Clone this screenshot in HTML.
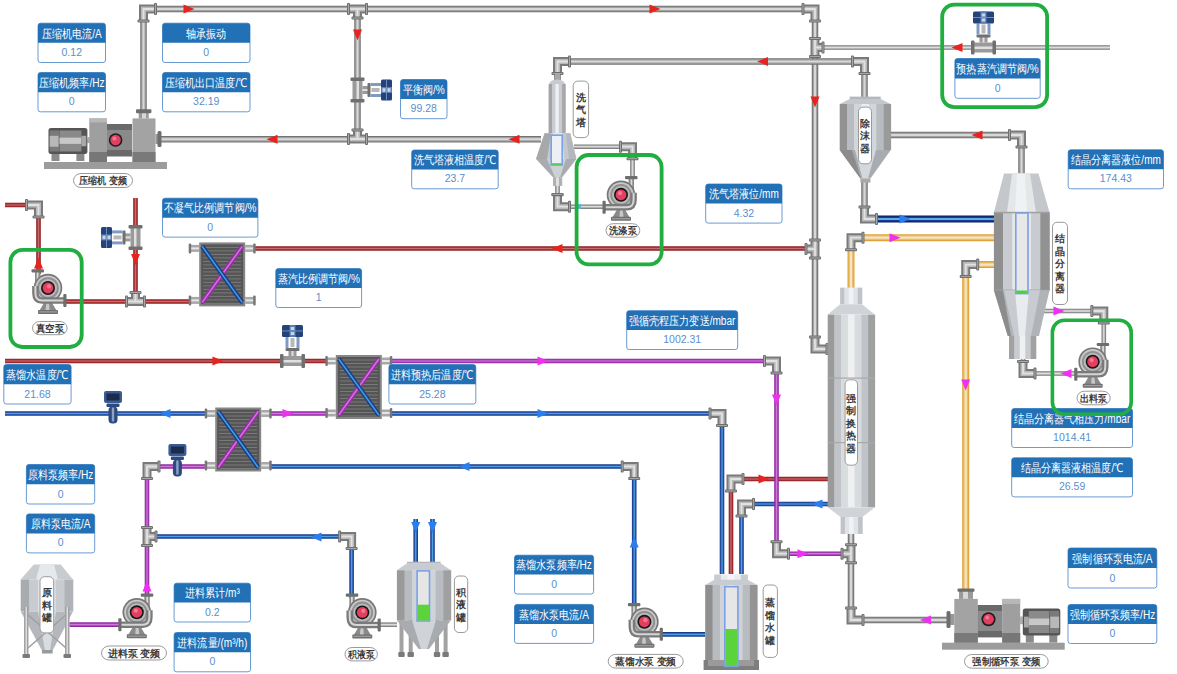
<!DOCTYPE html><html><head><meta charset="utf-8"><style>html,body{margin:0;padding:0;background:#fff;overflow:hidden} svg{display:block} text{font-family:'Liberation Sans', sans-serif}</style></head><body>
<svg width="1177" height="674" viewBox="0 0 1177 674">
<path d="M143.5,113 V9 H815 V349 H829" fill="none" stroke="#727272" stroke-width="6.5" stroke-linejoin="miter"/>
<path d="M143.5,113 V9 H815 V349 H829" fill="none" stroke="#a2a2a2" stroke-width="4.4" stroke-linejoin="miter"/>
<path d="M143.5,113 V9 H815 V349 H829" fill="none" stroke="#d8d8d8" stroke-width="2.0" stroke-linejoin="miter"/>
<path d="M160,139.2 H541" fill="none" stroke="#727272" stroke-width="6.5" stroke-linejoin="miter"/>
<path d="M160,139.2 H541" fill="none" stroke="#a2a2a2" stroke-width="4.4" stroke-linejoin="miter"/>
<path d="M160,139.2 H541" fill="none" stroke="#d8d8d8" stroke-width="2.0" stroke-linejoin="miter"/>
<path d="M357.5,9 V139" fill="none" stroke="#727272" stroke-width="6.5" stroke-linejoin="miter"/>
<path d="M357.5,9 V139" fill="none" stroke="#a2a2a2" stroke-width="4.4" stroke-linejoin="miter"/>
<path d="M357.5,9 V139" fill="none" stroke="#d8d8d8" stroke-width="2.0" stroke-linejoin="miter"/>
<path d="M557.5,80 V61.5 H864.5 V98" fill="none" stroke="#727272" stroke-width="6.5" stroke-linejoin="miter"/>
<path d="M557.5,80 V61.5 H864.5 V98" fill="none" stroke="#a2a2a2" stroke-width="4.4" stroke-linejoin="miter"/>
<path d="M557.5,80 V61.5 H864.5 V98" fill="none" stroke="#d8d8d8" stroke-width="2.0" stroke-linejoin="miter"/>
<path d="M815,47.5 H1110" fill="none" stroke="#7a7a7a" stroke-width="4.6" stroke-linejoin="miter"/>
<path d="M815,47.5 H1110" fill="none" stroke="#a6a6a6" stroke-width="3.0" stroke-linejoin="miter"/>
<path d="M815,47.5 H1110" fill="none" stroke="#dcdcdc" stroke-width="1.3" stroke-linejoin="miter"/>
<path d="M891,135 H1021.5 V174" fill="none" stroke="#727272" stroke-width="6.5" stroke-linejoin="miter"/>
<path d="M891,135 H1021.5 V174" fill="none" stroke="#a2a2a2" stroke-width="4.4" stroke-linejoin="miter"/>
<path d="M891,135 H1021.5 V174" fill="none" stroke="#d8d8d8" stroke-width="2.0" stroke-linejoin="miter"/>
<path d="M864.5,182 V219 H877" fill="none" stroke="#727272" stroke-width="6.5" stroke-linejoin="miter"/>
<path d="M864.5,182 V219 H877" fill="none" stroke="#a2a2a2" stroke-width="4.4" stroke-linejoin="miter"/>
<path d="M864.5,182 V219 H877" fill="none" stroke="#d8d8d8" stroke-width="2.0" stroke-linejoin="miter"/>
<path d="M574,146.7 H632.5 V178" fill="none" stroke="#7a7a7a" stroke-width="4.6" stroke-linejoin="miter"/>
<path d="M574,146.7 H632.5 V178" fill="none" stroke="#a6a6a6" stroke-width="3.0" stroke-linejoin="miter"/>
<path d="M574,146.7 H632.5 V178" fill="none" stroke="#dcdcdc" stroke-width="1.3" stroke-linejoin="miter"/>
<path d="M557.5,176 V206.7 H606" fill="none" stroke="#7a7a7a" stroke-width="4.6" stroke-linejoin="miter"/>
<path d="M557.5,176 V206.7 H606" fill="none" stroke="#a6a6a6" stroke-width="3.0" stroke-linejoin="miter"/>
<path d="M557.5,176 V206.7 H606" fill="none" stroke="#dcdcdc" stroke-width="1.3" stroke-linejoin="miter"/>
<path d="M1044,311 H1103.8 V345" fill="none" stroke="#7a7a7a" stroke-width="4.6" stroke-linejoin="miter"/>
<path d="M1044,311 H1103.8 V345" fill="none" stroke="#a6a6a6" stroke-width="3.0" stroke-linejoin="miter"/>
<path d="M1044,311 H1103.8 V345" fill="none" stroke="#dcdcdc" stroke-width="1.3" stroke-linejoin="miter"/>
<path d="M1023,358 V373.5 H1076" fill="none" stroke="#7a7a7a" stroke-width="4.6" stroke-linejoin="miter"/>
<path d="M1023,358 V373.5 H1076" fill="none" stroke="#a6a6a6" stroke-width="3.0" stroke-linejoin="miter"/>
<path d="M1023,358 V373.5 H1076" fill="none" stroke="#dcdcdc" stroke-width="1.3" stroke-linejoin="miter"/>
<path d="M851,533 V620 H947" fill="none" stroke="#727272" stroke-width="6.5" stroke-linejoin="miter"/>
<path d="M851,533 V620 H947" fill="none" stroke="#a2a2a2" stroke-width="4.4" stroke-linejoin="miter"/>
<path d="M851,533 V620 H947" fill="none" stroke="#d8d8d8" stroke-width="2.0" stroke-linejoin="miter"/>
<path d="M375,624.7 H397" fill="none" stroke="#7a7a7a" stroke-width="4.6" stroke-linejoin="miter"/>
<path d="M375,624.7 H397" fill="none" stroke="#a6a6a6" stroke-width="3.0" stroke-linejoin="miter"/>
<path d="M375,624.7 H397" fill="none" stroke="#dcdcdc" stroke-width="1.3" stroke-linejoin="miter"/>
<path d="M5,205 H38.5 V274" fill="none" stroke="#8e1f22" stroke-width="4.6" stroke-linejoin="miter"/>
<path d="M5,205 H38.5 V274" fill="none" stroke="#a83336" stroke-width="3.0" stroke-linejoin="miter"/>
<path d="M5,205 H38.5 V274" fill="none" stroke="#c96a6c" stroke-width="1.2" stroke-linejoin="miter"/>
<path d="M63,301.5 H190" fill="none" stroke="#8e1f22" stroke-width="4.6" stroke-linejoin="miter"/>
<path d="M63,301.5 H190" fill="none" stroke="#a83336" stroke-width="3.0" stroke-linejoin="miter"/>
<path d="M63,301.5 H190" fill="none" stroke="#c96a6c" stroke-width="1.2" stroke-linejoin="miter"/>
<path d="M135.5,198 V301.5" fill="none" stroke="#8e1f22" stroke-width="4.6" stroke-linejoin="miter"/>
<path d="M135.5,198 V301.5" fill="none" stroke="#a83336" stroke-width="3.0" stroke-linejoin="miter"/>
<path d="M135.5,198 V301.5" fill="none" stroke="#c96a6c" stroke-width="1.2" stroke-linejoin="miter"/>
<path d="M254,248.5 H808" fill="none" stroke="#8e1f22" stroke-width="4.6" stroke-linejoin="miter"/>
<path d="M254,248.5 H808" fill="none" stroke="#a83336" stroke-width="3.0" stroke-linejoin="miter"/>
<path d="M254,248.5 H808" fill="none" stroke="#c96a6c" stroke-width="1.2" stroke-linejoin="miter"/>
<path d="M5,361 H326" fill="none" stroke="#8e1f22" stroke-width="4.6" stroke-linejoin="miter"/>
<path d="M5,361 H326" fill="none" stroke="#a83336" stroke-width="3.0" stroke-linejoin="miter"/>
<path d="M5,361 H326" fill="none" stroke="#c96a6c" stroke-width="1.2" stroke-linejoin="miter"/>
<path d="M731,574 V479 H828" fill="none" stroke="#8e1f22" stroke-width="4.6" stroke-linejoin="miter"/>
<path d="M731,574 V479 H828" fill="none" stroke="#a83336" stroke-width="3.0" stroke-linejoin="miter"/>
<path d="M731,574 V479 H828" fill="none" stroke="#c96a6c" stroke-width="1.2" stroke-linejoin="miter"/>
<path d="M5,413.5 H206" fill="none" stroke="#1c3a8a" stroke-width="4.6" stroke-linejoin="miter"/>
<path d="M5,413.5 H206" fill="none" stroke="#2858ac" stroke-width="3.0" stroke-linejoin="miter"/>
<path d="M5,413.5 H206" fill="none" stroke="#4aa0e2" stroke-width="1.2" stroke-linejoin="miter"/>
<path d="M390,413.5 H722 V574" fill="none" stroke="#1c3a8a" stroke-width="4.6" stroke-linejoin="miter"/>
<path d="M390,413.5 H722 V574" fill="none" stroke="#2858ac" stroke-width="3.0" stroke-linejoin="miter"/>
<path d="M390,413.5 H722 V574" fill="none" stroke="#4aa0e2" stroke-width="1.2" stroke-linejoin="miter"/>
<path d="M270,466.5 H634.2 V607" fill="none" stroke="#1c3a8a" stroke-width="4.6" stroke-linejoin="miter"/>
<path d="M270,466.5 H634.2 V607" fill="none" stroke="#2858ac" stroke-width="3.0" stroke-linejoin="miter"/>
<path d="M270,466.5 H634.2 V607" fill="none" stroke="#4aa0e2" stroke-width="1.2" stroke-linejoin="miter"/>
<path d="M147,536.5 H351.6 V598" fill="none" stroke="#1c3a8a" stroke-width="4.6" stroke-linejoin="miter"/>
<path d="M147,536.5 H351.6 V598" fill="none" stroke="#2858ac" stroke-width="3.0" stroke-linejoin="miter"/>
<path d="M147,536.5 H351.6 V598" fill="none" stroke="#4aa0e2" stroke-width="1.2" stroke-linejoin="miter"/>
<path d="M741.5,574 V504 H828" fill="none" stroke="#1c3a8a" stroke-width="4.6" stroke-linejoin="miter"/>
<path d="M741.5,574 V504 H828" fill="none" stroke="#2858ac" stroke-width="3.0" stroke-linejoin="miter"/>
<path d="M741.5,574 V504 H828" fill="none" stroke="#4aa0e2" stroke-width="1.2" stroke-linejoin="miter"/>
<path d="M877,219 H994" fill="none" stroke="#111f6e" stroke-width="7" stroke-linejoin="miter"/>
<path d="M877,219 H994" fill="none" stroke="#1c3d94" stroke-width="4.6" stroke-linejoin="miter"/>
<path d="M877,219 H994" fill="none" stroke="#5ab0dc" stroke-width="2.0" stroke-linejoin="miter"/>
<path d="M415.7,519 V562" fill="none" stroke="#1c3a8a" stroke-width="4.6" stroke-linejoin="miter"/>
<path d="M415.7,519 V562" fill="none" stroke="#2858ac" stroke-width="3.0" stroke-linejoin="miter"/>
<path d="M415.7,519 V562" fill="none" stroke="#4aa0e2" stroke-width="1.2" stroke-linejoin="miter"/>
<path d="M432.5,519 V562" fill="none" stroke="#1c3a8a" stroke-width="4.6" stroke-linejoin="miter"/>
<path d="M432.5,519 V562" fill="none" stroke="#2858ac" stroke-width="3.0" stroke-linejoin="miter"/>
<path d="M432.5,519 V562" fill="none" stroke="#4aa0e2" stroke-width="1.2" stroke-linejoin="miter"/>
<path d="M660,634.4 H705" fill="none" stroke="#1c3a8a" stroke-width="4.6" stroke-linejoin="miter"/>
<path d="M660,634.4 H705" fill="none" stroke="#2858ac" stroke-width="3.0" stroke-linejoin="miter"/>
<path d="M660,634.4 H705" fill="none" stroke="#4aa0e2" stroke-width="1.2" stroke-linejoin="miter"/>
<path d="M390,361 H776.5 V553.7 H843" fill="none" stroke="#912aa0" stroke-width="4.6" stroke-linejoin="miter"/>
<path d="M390,361 H776.5 V553.7 H843" fill="none" stroke="#a63cb6" stroke-width="3.0" stroke-linejoin="miter"/>
<path d="M390,361 H776.5 V553.7 H843" fill="none" stroke="#cc7ad8" stroke-width="1.2" stroke-linejoin="miter"/>
<path d="M270,413.5 H326" fill="none" stroke="#912aa0" stroke-width="4.6" stroke-linejoin="miter"/>
<path d="M270,413.5 H326" fill="none" stroke="#a63cb6" stroke-width="3.0" stroke-linejoin="miter"/>
<path d="M270,413.5 H326" fill="none" stroke="#cc7ad8" stroke-width="1.2" stroke-linejoin="miter"/>
<path d="M147,596 V466.5 H206" fill="none" stroke="#912aa0" stroke-width="4.6" stroke-linejoin="miter"/>
<path d="M147,596 V466.5 H206" fill="none" stroke="#a63cb6" stroke-width="3.0" stroke-linejoin="miter"/>
<path d="M147,596 V466.5 H206" fill="none" stroke="#cc7ad8" stroke-width="1.2" stroke-linejoin="miter"/>
<path d="M69.5,624.6 H120" fill="none" stroke="#912aa0" stroke-width="4.6" stroke-linejoin="miter"/>
<path d="M69.5,624.6 H120" fill="none" stroke="#a63cb6" stroke-width="3.0" stroke-linejoin="miter"/>
<path d="M69.5,624.6 H120" fill="none" stroke="#cc7ad8" stroke-width="1.2" stroke-linejoin="miter"/>
<path d="M851,289 V237.7 H994" fill="none" stroke="#e0a23a" stroke-width="7" stroke-linejoin="miter"/>
<path d="M851,289 V237.7 H994" fill="none" stroke="#ebbd66" stroke-width="4.8" stroke-linejoin="miter"/>
<path d="M851,289 V237.7 H994" fill="none" stroke="#f3e4c8" stroke-width="2.2" stroke-linejoin="miter"/>
<path d="M994,264.6 H965.7 V591" fill="none" stroke="#e0a23a" stroke-width="7" stroke-linejoin="miter"/>
<path d="M994,264.6 H965.7 V591" fill="none" stroke="#ebbd66" stroke-width="4.8" stroke-linejoin="miter"/>
<path d="M994,264.6 H965.7 V591" fill="none" stroke="#f3e4c8" stroke-width="2.2" stroke-linejoin="miter"/>
<rect x="44" y="162" width="123" height="7" fill="#9c9c9c"/>
<g transform="translate(48.5,128) translate(38.900000000000006,0) scale(-1,1)">
<rect x="3" y="25" width="8" height="8" fill="#8a8a8a"/><rect x="27.900000000000006" y="25" width="8" height="8" fill="#8a8a8a"/>
<rect x="-3" y="10.92" width="3.5" height="4.16" fill="#b0b0b0"/>
<rect x="0" y="0" width="38.900000000000006" height="26" rx="2.5" fill="#555"/>
<rect x="6" y="2.5" width="21.900000000000006" height="21" fill="#8a8a8a"/>
<rect x="6" y="9.62" width="21.900000000000006" height="6.24" fill="#c8c8c8"/>
<rect x="1.2" y="7.8" width="4.8" height="10.4" fill="#a8a8a8"/>
<rect x="28.400000000000006" y="2.5" width="9.3" height="21" fill="#7a7a7a"/>
<rect x="28.900000000000006" y="7.8" width="8.8" height="10.92" fill="#b8b8b8"/>
</g>
<rect x="87.5" y="137" width="2" height="6" fill="#aaa"/>
<rect x="89.3" y="118.4" width="17.7" height="43.6" fill="#9f9f9f"/><rect x="89.3" y="118.4" width="17.7" height="4" fill="#b8b8b8"/><rect x="89.3" y="152" width="17.7" height="10" fill="#777"/>
<rect x="107" y="124" width="25" height="32.5" fill="#6a6a6a"/><rect x="107" y="130" width="25" height="20" fill="#8a8a8a"/>
<circle cx="115.6" cy="140" r="6.8" fill="#1b1b22"/><circle cx="115.6" cy="140" r="5.2" fill="#e2405e"/><circle cx="114.4" cy="138.4" r="2" fill="#f07890"/>
<rect x="132.5" y="118.4" width="23" height="43.6" fill="#a3a3a3"/><rect x="132.5" y="152" width="23" height="10" fill="#7a7a7a"/>
<rect x="138.7" y="111" width="10" height="7.4" fill="#9a9a9a"/><rect x="142" y="111" width="4" height="7.4" fill="#d8d8d8"/><rect x="136" y="109.2" width="15.4" height="4" rx="1" fill="#6e6e6e"/>
<rect x="155.5" y="134" width="3" height="10" fill="#999"/><rect x="157.5" y="131" width="4" height="16" rx="1.5" fill="#6e6e6e"/>
<rect x="73.5" y="173.5" width="59" height="14" rx="7.5" fill="#fff" stroke="#9a9a9a" stroke-width="1"/>
<text x="103.0" y="184.148" font-size="9.6" font-weight="bold" fill="#3a3a3a" text-anchor="middle" textLength="48.0" lengthAdjust="spacingAndGlyphs">压缩机 变频</text>
<g transform="translate(357.5,90) scale(1,1)">
<rect x="-5" y="-10" width="10" height="20" fill="#9a9a9a"/><rect x="-1" y="-10" width="2.5" height="20" fill="#e0e0e0"/>
<rect x="-7" y="-12.5" width="14" height="3.5" rx="1" fill="#707070"/><rect x="-7" y="9" width="14" height="3.5" rx="1" fill="#707070"/>
<rect x="5" y="-4" width="6" height="8" fill="#9a9a9a"/><rect x="5" y="-1" width="6" height="2" fill="#e0e0e0"/>
<rect x="10" y="-7" width="3" height="14" rx="1" fill="#707070"/>
<rect x="13" y="-7" width="11" height="3" fill="#7f9bc4"/><rect x="13" y="4" width="11" height="3" fill="#7f9bc4"/>
<rect x="14" y="-2" width="8" height="4" fill="#b8b8b8"/>
<rect x="23.5" y="-10.5" width="11" height="21" rx="1.5" fill="#24437a"/>
<rect x="23.5" y="-3" width="11" height="6" fill="#5a7fb6"/><rect x="25" y="-1.8" width="3" height="3.6" fill="#c8d6ea"/><rect x="30" y="-1.8" width="3" height="3.6" fill="#c8d6ea"/>
<rect x="28.6" y="-10.5" width="0.9" height="21" fill="#7a96c0"/>
</g>
<path d="M143.5,21 L143.5,9 L155.5,9" fill="none" stroke="#7a7a7a" stroke-width="9" stroke-linejoin="miter"/>
<path d="M143.5,21 L143.5,9 L155.5,9" fill="none" stroke="#b9b9b9" stroke-width="5" stroke-linejoin="miter"/>
<path d="M143.5,21 L143.5,9 L155.5,9" fill="none" stroke="#e2e2e2" stroke-width="1.8" stroke-linejoin="miter"/>
<rect x="137.5" y="19.5" width="12" height="3" rx="1" fill="#6e6e6e"/>
<rect x="138.5" y="20.5" width="10" height="1" fill="#a8a8a8"/>
<rect x="154.0" y="3" width="3" height="12" rx="1" fill="#6e6e6e"/>
<rect x="155.0" y="4" width="1" height="10" fill="#a8a8a8"/>
<path d="M348.5,9 L366.5,9" fill="none" stroke="#7a7a7a" stroke-width="9"/>
<path d="M357.5,9 L357.5,18" fill="none" stroke="#7a7a7a" stroke-width="9"/>
<path d="M348.5,9 L366.5,9" fill="none" stroke="#b9b9b9" stroke-width="5"/>
<path d="M357.5,9 L357.5,18" fill="none" stroke="#b9b9b9" stroke-width="5"/>
<path d="M348.5,9 L366.5,9" fill="none" stroke="#e2e2e2" stroke-width="1.8"/>
<path d="M357.5,9 L357.5,18" fill="none" stroke="#e2e2e2" stroke-width="1.8"/>
<rect x="347.0" y="3" width="3" height="12" rx="1" fill="#6e6e6e"/>
<rect x="348.0" y="4" width="1" height="10" fill="#a8a8a8"/>
<rect x="365.0" y="3" width="3" height="12" rx="1" fill="#6e6e6e"/>
<rect x="366.0" y="4" width="1" height="10" fill="#a8a8a8"/>
<rect x="351.5" y="16.5" width="12" height="3" rx="1" fill="#6e6e6e"/>
<rect x="352.5" y="17.5" width="10" height="1" fill="#a8a8a8"/>
<path d="M348.5,139 L366.5,139" fill="none" stroke="#7a7a7a" stroke-width="9"/>
<path d="M357.5,139 L357.5,130" fill="none" stroke="#7a7a7a" stroke-width="9"/>
<path d="M348.5,139 L366.5,139" fill="none" stroke="#b9b9b9" stroke-width="5"/>
<path d="M357.5,139 L357.5,130" fill="none" stroke="#b9b9b9" stroke-width="5"/>
<path d="M348.5,139 L366.5,139" fill="none" stroke="#e2e2e2" stroke-width="1.8"/>
<path d="M357.5,139 L357.5,130" fill="none" stroke="#e2e2e2" stroke-width="1.8"/>
<rect x="347.0" y="133" width="3" height="12" rx="1" fill="#6e6e6e"/>
<rect x="348.0" y="134" width="1" height="10" fill="#a8a8a8"/>
<rect x="365.0" y="133" width="3" height="12" rx="1" fill="#6e6e6e"/>
<rect x="366.0" y="134" width="1" height="10" fill="#a8a8a8"/>
<rect x="351.5" y="128.5" width="12" height="3" rx="1" fill="#6e6e6e"/>
<rect x="352.5" y="129.5" width="10" height="1" fill="#a8a8a8"/>
<path d="M803,9 L815,9 L815,21" fill="none" stroke="#7a7a7a" stroke-width="9" stroke-linejoin="miter"/>
<path d="M803,9 L815,9 L815,21" fill="none" stroke="#b9b9b9" stroke-width="5" stroke-linejoin="miter"/>
<path d="M803,9 L815,9 L815,21" fill="none" stroke="#e2e2e2" stroke-width="1.8" stroke-linejoin="miter"/>
<rect x="801.5" y="3" width="3" height="12" rx="1" fill="#6e6e6e"/>
<rect x="802.5" y="4" width="1" height="10" fill="#a8a8a8"/>
<rect x="809" y="19.5" width="12" height="3" rx="1" fill="#6e6e6e"/>
<rect x="810" y="20.5" width="10" height="1" fill="#a8a8a8"/>
<path d="M815,38.5 L815,56.5" fill="none" stroke="#7a7a7a" stroke-width="9"/>
<path d="M815,47.5 L823,47.5" fill="none" stroke="#7a7a7a" stroke-width="9"/>
<path d="M815,38.5 L815,56.5" fill="none" stroke="#b9b9b9" stroke-width="5"/>
<path d="M815,47.5 L823,47.5" fill="none" stroke="#b9b9b9" stroke-width="5"/>
<path d="M815,38.5 L815,56.5" fill="none" stroke="#e2e2e2" stroke-width="1.8"/>
<path d="M815,47.5 L823,47.5" fill="none" stroke="#e2e2e2" stroke-width="1.8"/>
<rect x="809" y="37.0" width="12" height="3" rx="1" fill="#6e6e6e"/>
<rect x="810" y="38.0" width="10" height="1" fill="#a8a8a8"/>
<rect x="809" y="55.0" width="12" height="3" rx="1" fill="#6e6e6e"/>
<rect x="810" y="56.0" width="10" height="1" fill="#a8a8a8"/>
<rect x="821.5" y="41.5" width="3" height="12" rx="1" fill="#6e6e6e"/>
<rect x="822.5" y="42.5" width="1" height="10" fill="#a8a8a8"/>
<path d="M852.5,61.5 L864.5,61.5 L864.5,73.5" fill="none" stroke="#7a7a7a" stroke-width="9" stroke-linejoin="miter"/>
<path d="M852.5,61.5 L864.5,61.5 L864.5,73.5" fill="none" stroke="#b9b9b9" stroke-width="5" stroke-linejoin="miter"/>
<path d="M852.5,61.5 L864.5,61.5 L864.5,73.5" fill="none" stroke="#e2e2e2" stroke-width="1.8" stroke-linejoin="miter"/>
<rect x="851.0" y="55.5" width="3" height="12" rx="1" fill="#6e6e6e"/>
<rect x="852.0" y="56.5" width="1" height="10" fill="#a8a8a8"/>
<rect x="858.5" y="72.0" width="12" height="3" rx="1" fill="#6e6e6e"/>
<rect x="859.5" y="73.0" width="10" height="1" fill="#a8a8a8"/>
<path d="M557.5,73.5 L557.5,61.5 L569.5,61.5" fill="none" stroke="#7a7a7a" stroke-width="9" stroke-linejoin="miter"/>
<path d="M557.5,73.5 L557.5,61.5 L569.5,61.5" fill="none" stroke="#b9b9b9" stroke-width="5" stroke-linejoin="miter"/>
<path d="M557.5,73.5 L557.5,61.5 L569.5,61.5" fill="none" stroke="#e2e2e2" stroke-width="1.8" stroke-linejoin="miter"/>
<rect x="551.5" y="72.0" width="12" height="3" rx="1" fill="#6e6e6e"/>
<rect x="552.5" y="73.0" width="10" height="1" fill="#a8a8a8"/>
<rect x="568.0" y="55.5" width="3" height="12" rx="1" fill="#6e6e6e"/>
<rect x="569.0" y="56.5" width="1" height="10" fill="#a8a8a8"/>
<path d="M1009.5,135 L1021.5,135 L1021.5,147" fill="none" stroke="#7a7a7a" stroke-width="9" stroke-linejoin="miter"/>
<path d="M1009.5,135 L1021.5,135 L1021.5,147" fill="none" stroke="#b9b9b9" stroke-width="5" stroke-linejoin="miter"/>
<path d="M1009.5,135 L1021.5,135 L1021.5,147" fill="none" stroke="#e2e2e2" stroke-width="1.8" stroke-linejoin="miter"/>
<rect x="1008.0" y="129" width="3" height="12" rx="1" fill="#6e6e6e"/>
<rect x="1009.0" y="130" width="1" height="10" fill="#a8a8a8"/>
<rect x="1015.5" y="145.5" width="12" height="3" rx="1" fill="#6e6e6e"/>
<rect x="1016.5" y="146.5" width="10" height="1" fill="#a8a8a8"/>
<path d="M864.5,207 L864.5,219 L876.5,219" fill="none" stroke="#7a7a7a" stroke-width="9" stroke-linejoin="miter"/>
<path d="M864.5,207 L864.5,219 L876.5,219" fill="none" stroke="#b9b9b9" stroke-width="5" stroke-linejoin="miter"/>
<path d="M864.5,207 L864.5,219 L876.5,219" fill="none" stroke="#e2e2e2" stroke-width="1.8" stroke-linejoin="miter"/>
<rect x="858.5" y="205.5" width="12" height="3" rx="1" fill="#6e6e6e"/>
<rect x="859.5" y="206.5" width="10" height="1" fill="#a8a8a8"/>
<rect x="875.0" y="213" width="3" height="12" rx="1" fill="#6e6e6e"/>
<rect x="876.0" y="214" width="1" height="10" fill="#a8a8a8"/>
<path d="M620.5,146.7 L632.5,146.7 L632.5,158.7" fill="none" stroke="#7a7a7a" stroke-width="9" stroke-linejoin="miter"/>
<path d="M620.5,146.7 L632.5,146.7 L632.5,158.7" fill="none" stroke="#b9b9b9" stroke-width="5" stroke-linejoin="miter"/>
<path d="M620.5,146.7 L632.5,146.7 L632.5,158.7" fill="none" stroke="#e2e2e2" stroke-width="1.8" stroke-linejoin="miter"/>
<rect x="619.0" y="140.7" width="3" height="12" rx="1" fill="#6e6e6e"/>
<rect x="620.0" y="141.7" width="1" height="10" fill="#a8a8a8"/>
<rect x="626.5" y="157.2" width="12" height="3" rx="1" fill="#6e6e6e"/>
<rect x="627.5" y="158.2" width="10" height="1" fill="#a8a8a8"/>
<path d="M557.5,194.7 L557.5,206.7 L569.5,206.7" fill="none" stroke="#7a7a7a" stroke-width="9" stroke-linejoin="miter"/>
<path d="M557.5,194.7 L557.5,206.7 L569.5,206.7" fill="none" stroke="#b9b9b9" stroke-width="5" stroke-linejoin="miter"/>
<path d="M557.5,194.7 L557.5,206.7 L569.5,206.7" fill="none" stroke="#e2e2e2" stroke-width="1.8" stroke-linejoin="miter"/>
<rect x="551.5" y="193.2" width="12" height="3" rx="1" fill="#6e6e6e"/>
<rect x="552.5" y="194.2" width="10" height="1" fill="#a8a8a8"/>
<rect x="568.0" y="200.7" width="3" height="12" rx="1" fill="#6e6e6e"/>
<rect x="569.0" y="201.7" width="1" height="10" fill="#a8a8a8"/>
<path d="M815,240 L815,258" fill="none" stroke="#7a7a7a" stroke-width="9"/>
<path d="M815,249 L806,249" fill="none" stroke="#7a7a7a" stroke-width="9"/>
<path d="M815,240 L815,258" fill="none" stroke="#b9b9b9" stroke-width="5"/>
<path d="M815,249 L806,249" fill="none" stroke="#b9b9b9" stroke-width="5"/>
<path d="M815,240 L815,258" fill="none" stroke="#e2e2e2" stroke-width="1.8"/>
<path d="M815,249 L806,249" fill="none" stroke="#e2e2e2" stroke-width="1.8"/>
<rect x="809" y="238.5" width="12" height="3" rx="1" fill="#6e6e6e"/>
<rect x="810" y="239.5" width="10" height="1" fill="#a8a8a8"/>
<rect x="809" y="256.5" width="12" height="3" rx="1" fill="#6e6e6e"/>
<rect x="810" y="257.5" width="10" height="1" fill="#a8a8a8"/>
<rect x="804.5" y="243" width="3" height="12" rx="1" fill="#6e6e6e"/>
<rect x="805.5" y="244" width="1" height="10" fill="#a8a8a8"/>
<path d="M815,337 L815,349 L827,349" fill="none" stroke="#7a7a7a" stroke-width="9" stroke-linejoin="miter"/>
<path d="M815,337 L815,349 L827,349" fill="none" stroke="#b9b9b9" stroke-width="5" stroke-linejoin="miter"/>
<path d="M815,337 L815,349 L827,349" fill="none" stroke="#e2e2e2" stroke-width="1.8" stroke-linejoin="miter"/>
<rect x="809" y="335.5" width="12" height="3" rx="1" fill="#6e6e6e"/>
<rect x="810" y="336.5" width="10" height="1" fill="#a8a8a8"/>
<rect x="825.5" y="343" width="3" height="12" rx="1" fill="#6e6e6e"/>
<rect x="826.5" y="344" width="1" height="10" fill="#a8a8a8"/>
<path d="M1091.8,311 L1103.8,311 L1103.8,323" fill="none" stroke="#7a7a7a" stroke-width="9" stroke-linejoin="miter"/>
<path d="M1091.8,311 L1103.8,311 L1103.8,323" fill="none" stroke="#b9b9b9" stroke-width="5" stroke-linejoin="miter"/>
<path d="M1091.8,311 L1103.8,311 L1103.8,323" fill="none" stroke="#e2e2e2" stroke-width="1.8" stroke-linejoin="miter"/>
<rect x="1090.3" y="305" width="3" height="12" rx="1" fill="#6e6e6e"/>
<rect x="1091.3" y="306" width="1" height="10" fill="#a8a8a8"/>
<rect x="1097.8" y="321.5" width="12" height="3" rx="1" fill="#6e6e6e"/>
<rect x="1098.8" y="322.5" width="10" height="1" fill="#a8a8a8"/>
<path d="M1023,361.5 L1023,373.5 L1035,373.5" fill="none" stroke="#7a7a7a" stroke-width="9" stroke-linejoin="miter"/>
<path d="M1023,361.5 L1023,373.5 L1035,373.5" fill="none" stroke="#b9b9b9" stroke-width="5" stroke-linejoin="miter"/>
<path d="M1023,361.5 L1023,373.5 L1035,373.5" fill="none" stroke="#e2e2e2" stroke-width="1.8" stroke-linejoin="miter"/>
<rect x="1017" y="360.0" width="12" height="3" rx="1" fill="#6e6e6e"/>
<rect x="1018" y="361.0" width="10" height="1" fill="#a8a8a8"/>
<rect x="1033.5" y="367.5" width="3" height="12" rx="1" fill="#6e6e6e"/>
<rect x="1034.5" y="368.5" width="1" height="10" fill="#a8a8a8"/>
<path d="M851,608 L851,620 L863,620" fill="none" stroke="#7a7a7a" stroke-width="9" stroke-linejoin="miter"/>
<path d="M851,608 L851,620 L863,620" fill="none" stroke="#b9b9b9" stroke-width="5" stroke-linejoin="miter"/>
<path d="M851,608 L851,620 L863,620" fill="none" stroke="#e2e2e2" stroke-width="1.8" stroke-linejoin="miter"/>
<rect x="845" y="606.5" width="12" height="3" rx="1" fill="#6e6e6e"/>
<rect x="846" y="607.5" width="10" height="1" fill="#a8a8a8"/>
<rect x="861.5" y="614" width="3" height="12" rx="1" fill="#6e6e6e"/>
<rect x="862.5" y="615" width="1" height="10" fill="#a8a8a8"/>
<path d="M851,544.7 L851,562.7" fill="none" stroke="#7a7a7a" stroke-width="9"/>
<path d="M851,553.7 L842,553.7" fill="none" stroke="#7a7a7a" stroke-width="9"/>
<path d="M851,544.7 L851,562.7" fill="none" stroke="#b9b9b9" stroke-width="5"/>
<path d="M851,553.7 L842,553.7" fill="none" stroke="#b9b9b9" stroke-width="5"/>
<path d="M851,544.7 L851,562.7" fill="none" stroke="#e2e2e2" stroke-width="1.8"/>
<path d="M851,553.7 L842,553.7" fill="none" stroke="#e2e2e2" stroke-width="1.8"/>
<rect x="845" y="543.2" width="12" height="3" rx="1" fill="#6e6e6e"/>
<rect x="846" y="544.2" width="10" height="1" fill="#a8a8a8"/>
<rect x="845" y="561.2" width="12" height="3" rx="1" fill="#6e6e6e"/>
<rect x="846" y="562.2" width="10" height="1" fill="#a8a8a8"/>
<rect x="840.5" y="547.7" width="3" height="12" rx="1" fill="#6e6e6e"/>
<rect x="841.5" y="548.7" width="1" height="10" fill="#a8a8a8"/>
<path d="M851,249.7 L851,237.7 L863,237.7" fill="none" stroke="#7a7a7a" stroke-width="9" stroke-linejoin="miter"/>
<path d="M851,249.7 L851,237.7 L863,237.7" fill="none" stroke="#b9b9b9" stroke-width="5" stroke-linejoin="miter"/>
<path d="M851,249.7 L851,237.7 L863,237.7" fill="none" stroke="#e2e2e2" stroke-width="1.8" stroke-linejoin="miter"/>
<rect x="845" y="248.2" width="12" height="3" rx="1" fill="#6e6e6e"/>
<rect x="846" y="249.2" width="10" height="1" fill="#a8a8a8"/>
<rect x="861.5" y="231.7" width="3" height="12" rx="1" fill="#6e6e6e"/>
<rect x="862.5" y="232.7" width="1" height="10" fill="#a8a8a8"/>
<path d="M977.7,264.6 L965.7,264.6 L965.7,276.6" fill="none" stroke="#7a7a7a" stroke-width="9" stroke-linejoin="miter"/>
<path d="M977.7,264.6 L965.7,264.6 L965.7,276.6" fill="none" stroke="#b9b9b9" stroke-width="5" stroke-linejoin="miter"/>
<path d="M977.7,264.6 L965.7,264.6 L965.7,276.6" fill="none" stroke="#e2e2e2" stroke-width="1.8" stroke-linejoin="miter"/>
<rect x="976.2" y="258.6" width="3" height="12" rx="1" fill="#6e6e6e"/>
<rect x="977.2" y="259.6" width="1" height="10" fill="#a8a8a8"/>
<rect x="959.7" y="275.1" width="12" height="3" rx="1" fill="#6e6e6e"/>
<rect x="960.7" y="276.1" width="10" height="1" fill="#a8a8a8"/>
<g transform="translate(983.5,47.5)">
<rect x="-10" y="-5" width="20" height="10" fill="#9a9a9a"/><rect x="-10" y="-1" width="20" height="2.5" fill="#e0e0e0"/>
<rect x="-12.5" y="-7" width="3.5" height="14" rx="1" fill="#707070"/><rect x="9" y="-7" width="3.5" height="14" rx="1" fill="#707070"/>
<rect x="-4" y="-11" width="8" height="6" fill="#9a9a9a"/><rect x="-1" y="-11" width="2" height="6" fill="#e0e0e0"/>
<rect x="-7" y="-13" width="14" height="3" rx="1" fill="#707070"/>
<rect x="-7" y="-24" width="3" height="11" fill="#7f9bc4"/><rect x="4" y="-24" width="3" height="11" fill="#7f9bc4"/>
<rect x="-2" y="-23" width="4" height="9" fill="#b8b8b8"/>
<rect x="-10.5" y="-36" width="21" height="12" rx="1.5" fill="#24437a"/>
<rect x="-3" y="-36" width="6" height="12" fill="#5a7fb6"/><rect x="-1.8" y="-34" width="3.6" height="3" fill="#c8d6ea"/><rect x="-1.8" y="-29" width="3.6" height="3" fill="#c8d6ea"/>
<rect x="-10.5" y="-30.5" width="21" height="0.9" fill="#7a96c0"/>
</g>
<polygon points="183.5,4.5 194.5,9 183.5,13.5" fill="#e8231d"/>
<polygon points="649.5,4.5 660.5,9 649.5,13.5" fill="#e8231d"/>
<polygon points="353.0,29.5 357.5,40.5 362.0,29.5" fill="#e8231d"/>
<polygon points="519.5,134.7 508.5,139.2 519.5,143.7" fill="#e8231d"/>
<polygon points="277.5,134.7 266.5,139.2 277.5,143.7" fill="#e8231d"/>
<polygon points="768.0,57.0 757.0,61.5 768.0,66.0" fill="#e8231d"/>
<polygon points="810.5,96.5 815,107.5 819.5,96.5" fill="#e8231d"/>
<polygon points="962.5,43.0 951.5,47.5 962.5,52.0" fill="#e8231d"/>
<polygon points="982.5,130.5 971.5,135 982.5,139.5" fill="#e8231d"/>
<polygon points="899.5,214.5 910.5,219 899.5,223.5" fill="#2a7ff0"/>
<polygon points="889.5,233.2 900.5,237.7 889.5,242.2" fill="#f030f0"/>
<polygon points="961.2,379.5 965.7,390.5 970.2,379.5" fill="#f030f0"/>
<polygon points="1053.5,306.5 1064.5,311 1053.5,315.5" fill="#f030f0"/>
<polygon points="1071.5,369.0 1060.5,373.5 1071.5,378.0" fill="#f030f0"/>
<polygon points="931.0,615.5 920.0,620 931.0,624.5" fill="#f030f0"/>
<polygon points="34.0,268.5 38.5,257.5 43.0,268.5" fill="#e8231d"/>
<polygon points="131.0,254.0 135.5,265.0 140.0,254.0" fill="#e8231d"/>
<polygon points="562.5,244.0 551.5,248.5 562.5,253.0" fill="#e8231d"/>
<polygon points="212.5,356.5 223.5,361 212.5,365.5" fill="#e8231d"/>
<polygon points="537.5,356.5 548.5,361 537.5,365.5" fill="#f030f0"/>
<polygon points="772.0,394.5 776.5,405.5 781.0,394.5" fill="#f030f0"/>
<polygon points="797.5,549.2 808.5,553.7 797.5,558.2" fill="#f030f0"/>
<polygon points="282.5,409.0 293.5,413.5 282.5,418.0" fill="#f030f0"/>
<polygon points="170.5,409.0 159.5,413.5 170.5,418.0" fill="#2a7ff0"/>
<polygon points="537.5,409.0 548.5,413.5 537.5,418.0" fill="#2a7ff0"/>
<polygon points="469.5,462.0 458.5,466.5 469.5,471.0" fill="#2a7ff0"/>
<polygon points="629.7,547.5 634.2,536.5 638.7,547.5" fill="#2a7ff0"/>
<polygon points="321.5,532.5 310.5,537 321.5,541.5" fill="#2a7ff0"/>
<polygon points="758.5,474.5 769.5,479 758.5,483.5" fill="#e8231d"/>
<polygon points="822.5,499.5 811.5,504 822.5,508.5" fill="#2a7ff0"/>
<polygon points="142.5,591.5 147,580.5 151.5,591.5" fill="#f030f0"/>
<polygon points="411.2,522.0 415.7,533.0 420.2,522.0" fill="#2a7ff0"/>
<polygon points="428.0,522.0 432.5,533.0 437.0,522.0" fill="#2a7ff0"/>
<rect x="555" y="73" width="5" height="7" fill="#a8a8a8"/>
<path d="M548.7,86 Q548.7,79.4 557,79.4 Q565.4,79.4 565.4,86 V133.2 H548.7 Z" fill="#c8ccd0"/>
<rect x="548.70" y="84" width="3.64" height="49.19999999999999" fill="#a4a4a4"/>
<rect x="552.04" y="84" width="3.64" height="49.19999999999999" fill="#c9cdd1"/>
<rect x="555.38" y="84" width="3.64" height="49.19999999999999" fill="#eef1f3"/>
<rect x="558.72" y="84" width="3.64" height="49.19999999999999" fill="#c9cdd1"/>
<rect x="562.06" y="84" width="3.64" height="49.19999999999999" fill="#a8a8a8"/>
<path d="M544.6,133.2 H570.3 L576.4,159 H536 Z" fill="#c4c8cc"/>
<path d="M544.6,133.2 H551 L547,159 H536 Z" fill="#a6a8aa"/>
<path d="M553,133.2 H562 L564,159 H551 Z" fill="#e6eaee"/>
<path d="M566,133.2 H570.3 L576.4,159 H569 Z" fill="#b4b8bc"/>
<path d="M536,159 H576.4 L562.2,177.3 H553 Z" fill="#a8acb0"/>
<path d="M547,159 H566 L560,177.3 H555 Z" fill="#cdd1d5"/>
<rect x="553" y="177.3" width="9.2" height="8.6" fill="#b0b0b0"/><rect x="556" y="177.3" width="3" height="8.6" fill="#e0e0e0"/>
<rect x="551.2" y="135.2" width="11" height="29.8" fill="#eceff3" stroke="#7aa0e8" stroke-width="1.6"/>
<rect x="551.7" y="163.2" width="10" height="1.6" fill="#4cd040"/>
<rect x="551.5" y="192.9" width="12" height="3" rx="1" fill="#6e6e6e"/>
<rect x="552.5" y="193.9" width="10" height="1" fill="#a8a8a8"/>
<rect x="573.2" y="81.1" width="15.399999999999977" height="56.5" rx="4.5" fill="#fff" stroke="#9a9a9a" stroke-width="1"/>
<text x="580.9000000000001" y="100.85" font-size="10" font-weight="bold" fill="#3a3a3a" text-anchor="middle">洗</text>
<text x="580.9000000000001" y="113.35" font-size="10" font-weight="bold" fill="#3a3a3a" text-anchor="middle">气</text>
<text x="580.9000000000001" y="125.85" font-size="10" font-weight="bold" fill="#3a3a3a" text-anchor="middle">塔</text>
<g transform="translate(621,194.8)">
<path d="M-3.5,14 L3.5,14 L8.5,22.5 L-8.5,22.5 Z" fill="#8a8a8a"/><path d="M-1,14 L1.5,14 L2.5,22.5 L-1.5,22.5 Z" fill="#c8c8c8"/>
<rect x="-10" y="22" width="20" height="4" rx="1" fill="#6f6f6f"/><rect x="-9" y="23.3" width="18" height="1.2" fill="#a0a0a0"/>
<rect x="7.5" y="-17" width="5.5" height="17" fill="#8a8a8a"/><rect x="9.5" y="-17" width="1.8" height="17" fill="#dadada"/>
<rect x="4" y="-18.8" width="12.5" height="3.2" rx="1" fill="#6e6e6e"/>
<circle cx="0" cy="0" r="14.3" fill="#777"/>
<circle cx="0" cy="0" r="12.6" fill="#c9c9c9"/>
<circle cx="0" cy="0" r="10.8" fill="#8f8f8f"/>
<circle cx="0" cy="0" r="9" fill="#b9b9b9"/>
<path d="M-16,12.5 H6 Q12.6,12.5 12.6,5 V-2" fill="none" stroke="#7a7a7a" stroke-width="6.5"/>
<path d="M-16,12.5 H6 Q12.6,12.5 12.6,5 V-2" fill="none" stroke="#d6d6d6" stroke-width="2"/>
<rect x="-18.5" y="6" width="3.2" height="13" rx="1" fill="#6e6e6e"/>
<circle cx="0" cy="0" r="7" fill="#16161c"/>
<circle cx="0" cy="0" r="5.4" fill="#e2405e"/>
<circle cx="-1" cy="-1.6" r="2.1" fill="#f27a92"/>
</g>
<rect x="606.0" y="223.7" width="33.799999999999955" height="13.5" rx="7.25" fill="#fff" stroke="#9a9a9a" stroke-width="1"/>
<text x="622.9" y="234.09799999999998" font-size="9.6" font-weight="bold" fill="#3a3a3a" text-anchor="middle" textLength="27.839999999999964" lengthAdjust="spacingAndGlyphs">洗涤泵</text>
<rect x="575" y="204" width="6" height="5" fill="#5ab4e8"/>
<rect x="849.7" y="96.6" width="31" height="3" fill="#b4b8bc"/>
<path d="M849.7,99 H880.6 L890.8,104 H839.7 Z" fill="#c4c8cc"/>
<rect x="839.70" y="104" width="7.60" height="46" fill="#929292"/>
<rect x="847.00" y="104" width="7.60" height="46" fill="#b8bcc0"/>
<rect x="854.30" y="104" width="7.60" height="46" fill="#d2d6da"/>
<rect x="861.60" y="104" width="7.60" height="46" fill="#eaeef0"/>
<rect x="868.90" y="104" width="7.60" height="46" fill="#d2d6da"/>
<rect x="876.20" y="104" width="7.60" height="46" fill="#b8bcc0"/>
<rect x="883.50" y="104" width="7.60" height="46" fill="#9a9a9a"/>
<path d="M839.7,150 H890.8 L870.4,178.6 H860.4 Z" fill="#a8acb0"/>
<path d="M855,150 H876 L868,178.6 H862.5 Z" fill="#d4d8dc"/>
<path d="M839.7,150 H852 L861,178.6 H860.4 Z" fill="#8c8c8c"/>
<rect x="860.4" y="178.6" width="10" height="4" fill="#a8a8a8"/>
<rect x="858.5" y="107.1" width="13" height="56.70000000000002" rx="4.5" fill="#fff" stroke="#9a9a9a" stroke-width="1"/>
<text x="865.0" y="126.94999999999999" font-size="10" font-weight="bold" fill="#3a3a3a" text-anchor="middle">除</text>
<text x="865.0" y="139.45" font-size="10" font-weight="bold" fill="#3a3a3a" text-anchor="middle">沫</text>
<text x="865.0" y="151.95" font-size="10" font-weight="bold" fill="#3a3a3a" text-anchor="middle">器</text>
<path d="M1004,173.4 H1038.5 L1049.5,212.6 H993.9 Z" fill="#c4c8cc"/>
<path d="M1012,173.4 H1030 L1036,212.6 H1007 Z" fill="#e4e6e8"/>
<path d="M1017,173.4 H1025 L1027,212.6 H1015 Z" fill="#eef2f4"/>
<rect x="993.90" y="212.6" width="9.57" height="77.70000000000002" fill="#8f8f8f"/>
<rect x="1003.17" y="212.6" width="9.57" height="77.70000000000002" fill="#c8ccd0"/>
<rect x="1012.43" y="212.6" width="9.57" height="77.70000000000002" fill="#e6e8ea"/>
<rect x="1021.70" y="212.6" width="9.57" height="77.70000000000002" fill="#e6e8ea"/>
<rect x="1030.97" y="212.6" width="9.57" height="77.70000000000002" fill="#c8ccd0"/>
<rect x="1040.23" y="212.6" width="9.57" height="77.70000000000002" fill="#929292"/>
<rect x="993.9" y="211.8" width="55.6" height="1.5" fill="#a0a0a0"/><rect x="993.9" y="289.6" width="55.6" height="1.5" fill="#a0a0a0"/>
<path d="M993.9,290.3 H1049.5 L1039,336 H1007.8 Z" fill="#b0b4b8"/>
<path d="M1004,290.3 H1040 L1031,336 H1014 Z" fill="#c8ccd0"/>
<path d="M1015,290.3 H1029 L1025,336 H1019 Z" fill="#e8ecee"/>
<path d="M993.9,290.3 H1003 L1011,336 H1007.8 Z" fill="#8c8c8c"/>
<rect x="1009.00" y="336" width="5.70" height="23" fill="#a2a2a2"/>
<rect x="1014.40" y="336" width="5.70" height="23" fill="#c8ccd0"/>
<rect x="1019.80" y="336" width="5.70" height="23" fill="#eef0f2"/>
<rect x="1025.20" y="336" width="5.70" height="23" fill="#c8ccd0"/>
<rect x="1030.60" y="336" width="5.70" height="23" fill="#a2a2a2"/>
<rect x="1015.8" y="213" width="12.2" height="80.6" fill="#e8e8e8" stroke="#7aa0e8" stroke-width="1.6"/>
<rect x="1016.3" y="290.5" width="11.2" height="2.6" fill="#4cd040"/>
<rect x="1052.5" y="222.3" width="15" height="82.19999999999999" rx="4.5" fill="#fff" stroke="#9a9a9a" stroke-width="1"/>
<text x="1060.0" y="242.39999999999998" font-size="10" font-weight="bold" fill="#3a3a3a" text-anchor="middle">结</text>
<text x="1060.0" y="254.89999999999998" font-size="10" font-weight="bold" fill="#3a3a3a" text-anchor="middle">晶</text>
<text x="1060.0" y="267.4" font-size="10" font-weight="bold" fill="#3a3a3a" text-anchor="middle">分</text>
<text x="1060.0" y="279.9" font-size="10" font-weight="bold" fill="#3a3a3a" text-anchor="middle">离</text>
<text x="1060.0" y="292.4" font-size="10" font-weight="bold" fill="#3a3a3a" text-anchor="middle">器</text>
<g transform="translate(1092.7,361.7)">
<path d="M-3.5,14 L3.5,14 L8.5,22.5 L-8.5,22.5 Z" fill="#8a8a8a"/><path d="M-1,14 L1.5,14 L2.5,22.5 L-1.5,22.5 Z" fill="#c8c8c8"/>
<rect x="-10" y="22" width="20" height="4" rx="1" fill="#6f6f6f"/><rect x="-9" y="23.3" width="18" height="1.2" fill="#a0a0a0"/>
<rect x="7.5" y="-17" width="5.5" height="17" fill="#8a8a8a"/><rect x="9.5" y="-17" width="1.8" height="17" fill="#dadada"/>
<rect x="4" y="-18.8" width="12.5" height="3.2" rx="1" fill="#6e6e6e"/>
<circle cx="0" cy="0" r="14.3" fill="#777"/>
<circle cx="0" cy="0" r="12.6" fill="#c9c9c9"/>
<circle cx="0" cy="0" r="10.8" fill="#8f8f8f"/>
<circle cx="0" cy="0" r="9" fill="#b9b9b9"/>
<path d="M-16,12.5 H6 Q12.6,12.5 12.6,5 V-2" fill="none" stroke="#7a7a7a" stroke-width="6.5"/>
<path d="M-16,12.5 H6 Q12.6,12.5 12.6,5 V-2" fill="none" stroke="#d6d6d6" stroke-width="2"/>
<rect x="-18.5" y="6" width="3.2" height="13" rx="1" fill="#6e6e6e"/>
<circle cx="0" cy="0" r="7" fill="#16161c"/>
<circle cx="0" cy="0" r="5.4" fill="#e2405e"/>
<circle cx="-1" cy="-1.6" r="2.1" fill="#f27a92"/>
</g>
<rect x="1077.0" y="391.2" width="33.200000000000045" height="13.600000000000023" rx="7.300000000000011" fill="#fff" stroke="#9a9a9a" stroke-width="1"/>
<text x="1093.6" y="401.648" font-size="9.6" font-weight="bold" fill="#3a3a3a" text-anchor="middle" textLength="27.36000000000004" lengthAdjust="spacingAndGlyphs">出料泵</text>
<rect x="840.10" y="287.6" width="4.68" height="16.599999999999966" fill="#c0c4c8"/>
<rect x="844.48" y="287.6" width="4.68" height="16.599999999999966" fill="#e0e4e8"/>
<rect x="848.86" y="287.6" width="4.68" height="16.599999999999966" fill="#f0f3f5"/>
<rect x="853.24" y="287.6" width="4.68" height="16.599999999999966" fill="#e0e4e8"/>
<rect x="857.62" y="287.6" width="4.68" height="16.599999999999966" fill="#c0c4c8"/>
<path d="M840.1,304.2 H862 L874.8,314.6 H827.7 Z" fill="#d0d4d8"/>
<rect x="827.70" y="314.6" width="7.03" height="192.79999999999995" fill="#9a9a9a"/>
<rect x="834.43" y="314.6" width="7.03" height="192.79999999999995" fill="#c0c4c8"/>
<rect x="841.16" y="314.6" width="7.03" height="192.79999999999995" fill="#d8dcdf"/>
<rect x="847.89" y="314.6" width="7.03" height="192.79999999999995" fill="#eef0f2"/>
<rect x="854.61" y="314.6" width="7.03" height="192.79999999999995" fill="#d8dcdf"/>
<rect x="861.34" y="314.6" width="7.03" height="192.79999999999995" fill="#c0c4c8"/>
<rect x="868.07" y="314.6" width="7.03" height="192.79999999999995" fill="#a0a0a0"/>
<rect x="827.7" y="377.5" width="47.1" height="1.2" fill="#a8a8a8"/><rect x="827.7" y="442" width="47.1" height="1.2" fill="#a8a8a8"/>
<path d="M827.7,507.4 H874.8 L862.4,517 H840.6 Z" fill="#d0d4d8"/>
<rect x="840.60" y="517" width="4.66" height="17" fill="#c0c4c8"/>
<rect x="844.96" y="517" width="4.66" height="17" fill="#e0e4e8"/>
<rect x="849.32" y="517" width="4.66" height="17" fill="#f0f3f5"/>
<rect x="853.68" y="517" width="4.66" height="17" fill="#e0e4e8"/>
<rect x="858.04" y="517" width="4.66" height="17" fill="#c0c4c8"/>
<rect x="845.1" y="379.8" width="12.399999999999977" height="85.39999999999998" rx="4.5" fill="#fff" stroke="#9a9a9a" stroke-width="1"/>
<text x="851.3" y="401.5" font-size="10" font-weight="bold" fill="#3a3a3a" text-anchor="middle">强</text>
<text x="851.3" y="414.0" font-size="10" font-weight="bold" fill="#3a3a3a" text-anchor="middle">制</text>
<text x="851.3" y="426.5" font-size="10" font-weight="bold" fill="#3a3a3a" text-anchor="middle">换</text>
<text x="851.3" y="439.0" font-size="10" font-weight="bold" fill="#3a3a3a" text-anchor="middle">热</text>
<text x="851.3" y="451.5" font-size="10" font-weight="bold" fill="#3a3a3a" text-anchor="middle">器</text>
<rect x="942" y="642.7" width="122.7" height="7" fill="#9c9c9c"/>
<rect x="959" y="590.5" width="14" height="8.4" fill="#9a9a9a"/><rect x="963" y="590.5" width="5" height="8.4" fill="#d8d8d8"/><rect x="957.5" y="588.5" width="17" height="3.2" rx="1" fill="#6e6e6e"/>
<rect x="954.3" y="598.9" width="23.5" height="43.8" fill="#a3a3a3"/><rect x="954.3" y="633" width="23.5" height="9.7" fill="#7a7a7a"/>
<rect x="977.8" y="605" width="24.4" height="32.4" fill="#6a6a6a"/><rect x="977.8" y="611" width="24.4" height="20" fill="#8a8a8a"/>
<circle cx="988.5" cy="619.2" r="7" fill="#1b1b22"/><circle cx="988.5" cy="619.2" r="5.4" fill="#e2405e"/><circle cx="987.3" cy="617.6" r="2" fill="#f07890"/>
<rect x="1002.2" y="598.9" width="18" height="43.8" fill="#9f9f9f"/><rect x="1002.2" y="598.9" width="18" height="5" fill="#b8b8b8"/><rect x="1002.2" y="633" width="18" height="9.7" fill="#777"/>
<rect x="1020.2" y="616.5" width="2.5" height="6" fill="#aaa"/>
<g transform="translate(1022.8,608.5)">
<rect x="3" y="26.100000000000023" width="8" height="8" fill="#8a8a8a"/><rect x="26.5" y="26.100000000000023" width="8" height="8" fill="#8a8a8a"/>
<rect x="-3" y="11.382000000000009" width="3.5" height="4.336000000000004" fill="#b0b0b0"/>
<rect x="0" y="0" width="37.5" height="27.100000000000023" rx="2.5" fill="#555"/>
<rect x="6" y="2.5" width="20.5" height="22.100000000000023" fill="#8a8a8a"/>
<rect x="6" y="10.027000000000008" width="20.5" height="6.504000000000005" fill="#c8c8c8"/>
<rect x="1.2" y="8.130000000000006" width="4.8" height="10.84000000000001" fill="#a8a8a8"/>
<rect x="27.0" y="2.5" width="9.3" height="22.100000000000023" fill="#7a7a7a"/>
<rect x="27.5" y="8.130000000000006" width="8.8" height="11.382000000000009" fill="#b8b8b8"/>
</g>
<rect x="950" y="614" width="4.3" height="11" fill="#999"/><rect x="946.5" y="611" width="4" height="17" rx="1.5" fill="#6e6e6e"/>
<rect x="964.5" y="654.5" width="83.70000000000005" height="13.700000000000045" rx="7.350000000000023" fill="#fff" stroke="#9a9a9a" stroke-width="1"/>
<text x="1006.35" y="664.998" font-size="9.6" font-weight="bold" fill="#3a3a3a" text-anchor="middle" textLength="67.76000000000003" lengthAdjust="spacingAndGlyphs">强制循环泵 变频</text>
<rect x="190.2" y="244.9" width="9" height="7" fill="#a8a8a8"/><rect x="190.2" y="247.4" width="9" height="2" fill="#e6e6e6"/>
<rect x="188.7" y="243.4" width="2.5" height="10" rx="1" fill="#777"/>
<rect x="245.2" y="244.9" width="9" height="7" fill="#a8a8a8"/><rect x="245.2" y="247.4" width="9" height="2" fill="#e6e6e6"/>
<rect x="253.2" y="243.4" width="2.5" height="10" rx="1" fill="#777"/>
<rect x="190.2" y="296.9" width="9" height="7" fill="#a8a8a8"/><rect x="190.2" y="299.4" width="9" height="2" fill="#e6e6e6"/>
<rect x="188.7" y="295.4" width="2.5" height="10" rx="1" fill="#777"/>
<rect x="245.2" y="296.9" width="9" height="7" fill="#a8a8a8"/><rect x="245.2" y="299.4" width="9" height="2" fill="#e6e6e6"/>
<rect x="253.2" y="295.4" width="2.5" height="10" rx="1" fill="#777"/>
<rect x="199.2" y="242.4" width="46" height="64" fill="#878787"/>
<rect x="201.2" y="244.4" width="42" height="60" fill="#555"/>
<path d="M203.2,247.4 H241.2 M203.2,250.9 H241.2 M203.2,254.4 H241.2 M203.2,257.9 H241.2 M203.2,261.4 H241.2 M203.2,264.9 H241.2 M203.2,268.4 H241.2 M203.2,271.9 H241.2 M203.2,275.4 H241.2 M203.2,278.9 H241.2 M203.2,282.4 H241.2 M203.2,285.9 H241.2 M203.2,289.4 H241.2 M203.2,292.9 H241.2 M203.2,296.4 H241.2 M203.2,299.9 H241.2 M203.2,303.4 H241.2 " stroke="#7a7a7a" stroke-width="1"/>
<path d="M202.2,302.4 L242.2,246.4" stroke="#9a2ca6" stroke-width="4.5"/><path d="M202.2,302.4 L242.2,246.4" stroke="#d070e0" stroke-width="1.6"/>
<path d="M202.2,246.4 L242.2,302.4" stroke="#1d3a8a" stroke-width="4.5"/><path d="M202.2,246.4 L242.2,302.4" stroke="#3aa0e0" stroke-width="1.6"/>
<rect x="206.2" y="410.0" width="9" height="7" fill="#a8a8a8"/><rect x="206.2" y="412.5" width="9" height="2" fill="#e6e6e6"/>
<rect x="204.7" y="408.5" width="2.5" height="10" rx="1" fill="#777"/>
<rect x="261.2" y="410.0" width="9" height="7" fill="#a8a8a8"/><rect x="261.2" y="412.5" width="9" height="2" fill="#e6e6e6"/>
<rect x="269.2" y="408.5" width="2.5" height="10" rx="1" fill="#777"/>
<rect x="206.2" y="462.0" width="9" height="7" fill="#a8a8a8"/><rect x="206.2" y="464.5" width="9" height="2" fill="#e6e6e6"/>
<rect x="204.7" y="460.5" width="2.5" height="10" rx="1" fill="#777"/>
<rect x="261.2" y="462.0" width="9" height="7" fill="#a8a8a8"/><rect x="261.2" y="464.5" width="9" height="2" fill="#e6e6e6"/>
<rect x="269.2" y="460.5" width="2.5" height="10" rx="1" fill="#777"/>
<rect x="215.2" y="407.5" width="46" height="64" fill="#878787"/>
<rect x="217.2" y="409.5" width="42" height="60" fill="#555"/>
<path d="M219.2,412.5 H257.2 M219.2,416.0 H257.2 M219.2,419.5 H257.2 M219.2,423.0 H257.2 M219.2,426.5 H257.2 M219.2,430.0 H257.2 M219.2,433.5 H257.2 M219.2,437.0 H257.2 M219.2,440.5 H257.2 M219.2,444.0 H257.2 M219.2,447.5 H257.2 M219.2,451.0 H257.2 M219.2,454.5 H257.2 M219.2,458.0 H257.2 M219.2,461.5 H257.2 M219.2,465.0 H257.2 M219.2,468.5 H257.2 " stroke="#7a7a7a" stroke-width="1"/>
<path d="M218.2,467.5 L258.2,411.5" stroke="#9a2ca6" stroke-width="4.5"/><path d="M218.2,467.5 L258.2,411.5" stroke="#d070e0" stroke-width="1.6"/>
<path d="M218.2,411.5 L258.2,467.5" stroke="#1d3a8a" stroke-width="4.5"/><path d="M218.2,411.5 L258.2,467.5" stroke="#3aa0e0" stroke-width="1.6"/>
<rect x="326.8" y="357.5" width="9" height="7" fill="#a8a8a8"/><rect x="326.8" y="360" width="9" height="2" fill="#e6e6e6"/>
<rect x="325.3" y="356" width="2.5" height="10" rx="1" fill="#777"/>
<rect x="381.8" y="357.5" width="9" height="7" fill="#a8a8a8"/><rect x="381.8" y="360" width="9" height="2" fill="#e6e6e6"/>
<rect x="389.8" y="356" width="2.5" height="10" rx="1" fill="#777"/>
<rect x="326.8" y="409.5" width="9" height="7" fill="#a8a8a8"/><rect x="326.8" y="412" width="9" height="2" fill="#e6e6e6"/>
<rect x="325.3" y="408" width="2.5" height="10" rx="1" fill="#777"/>
<rect x="381.8" y="409.5" width="9" height="7" fill="#a8a8a8"/><rect x="381.8" y="412" width="9" height="2" fill="#e6e6e6"/>
<rect x="389.8" y="408" width="2.5" height="10" rx="1" fill="#777"/>
<rect x="335.8" y="355" width="46" height="64" fill="#878787"/>
<rect x="337.8" y="357" width="42" height="60" fill="#555"/>
<path d="M339.8,360.0 H377.8 M339.8,363.5 H377.8 M339.8,367.0 H377.8 M339.8,370.5 H377.8 M339.8,374.0 H377.8 M339.8,377.5 H377.8 M339.8,381.0 H377.8 M339.8,384.5 H377.8 M339.8,388.0 H377.8 M339.8,391.5 H377.8 M339.8,395.0 H377.8 M339.8,398.5 H377.8 M339.8,402.0 H377.8 M339.8,405.5 H377.8 M339.8,409.0 H377.8 M339.8,412.5 H377.8 M339.8,416.0 H377.8 " stroke="#7a7a7a" stroke-width="1"/>
<path d="M338.8,415 L378.8,359" stroke="#9a2ca6" stroke-width="4.5"/><path d="M338.8,415 L378.8,359" stroke="#d070e0" stroke-width="1.6"/>
<path d="M338.8,359 L378.8,415" stroke="#1d3a8a" stroke-width="4.5"/><path d="M338.8,359 L378.8,415" stroke="#3aa0e0" stroke-width="1.6"/>
<g transform="translate(48,288) scale(-1,1)">
<path d="M-3.5,14 L3.5,14 L8.5,22.5 L-8.5,22.5 Z" fill="#8a8a8a"/><path d="M-1,14 L1.5,14 L2.5,22.5 L-1.5,22.5 Z" fill="#c8c8c8"/>
<rect x="-10" y="22" width="20" height="4" rx="1" fill="#6f6f6f"/><rect x="-9" y="23.3" width="18" height="1.2" fill="#a0a0a0"/>
<rect x="7.5" y="-17" width="5.5" height="17" fill="#8a8a8a"/><rect x="9.5" y="-17" width="1.8" height="17" fill="#dadada"/>
<rect x="4" y="-18.8" width="12.5" height="3.2" rx="1" fill="#6e6e6e"/>
<circle cx="0" cy="0" r="14.3" fill="#777"/>
<circle cx="0" cy="0" r="12.6" fill="#c9c9c9"/>
<circle cx="0" cy="0" r="10.8" fill="#8f8f8f"/>
<circle cx="0" cy="0" r="9" fill="#b9b9b9"/>
<path d="M-16,12.5 H6 Q12.6,12.5 12.6,5 V-2" fill="none" stroke="#7a7a7a" stroke-width="6.5"/>
<path d="M-16,12.5 H6 Q12.6,12.5 12.6,5 V-2" fill="none" stroke="#d6d6d6" stroke-width="2"/>
<rect x="-18.5" y="6" width="3.2" height="13" rx="1" fill="#6e6e6e"/>
<circle cx="0" cy="0" r="7" fill="#16161c"/>
<circle cx="0" cy="0" r="5.4" fill="#e2405e"/>
<circle cx="-1" cy="-1.6" r="2.1" fill="#f27a92"/>
</g>
<path d="M26.5,205 L38.5,205 L38.5,217" fill="none" stroke="#7a7a7a" stroke-width="9" stroke-linejoin="miter"/>
<path d="M26.5,205 L38.5,205 L38.5,217" fill="none" stroke="#b9b9b9" stroke-width="5" stroke-linejoin="miter"/>
<path d="M26.5,205 L38.5,205 L38.5,217" fill="none" stroke="#e2e2e2" stroke-width="1.8" stroke-linejoin="miter"/>
<rect x="25.0" y="199" width="3" height="12" rx="1" fill="#6e6e6e"/>
<rect x="26.0" y="200" width="1" height="10" fill="#a8a8a8"/>
<rect x="32.5" y="215.5" width="12" height="3" rx="1" fill="#6e6e6e"/>
<rect x="33.5" y="216.5" width="10" height="1" fill="#a8a8a8"/>
<path d="M126.5,301.5 L144.5,301.5" fill="none" stroke="#7a7a7a" stroke-width="9"/>
<path d="M135.5,301.5 L135.5,292.5" fill="none" stroke="#7a7a7a" stroke-width="9"/>
<path d="M126.5,301.5 L144.5,301.5" fill="none" stroke="#b9b9b9" stroke-width="5"/>
<path d="M135.5,301.5 L135.5,292.5" fill="none" stroke="#b9b9b9" stroke-width="5"/>
<path d="M126.5,301.5 L144.5,301.5" fill="none" stroke="#e2e2e2" stroke-width="1.8"/>
<path d="M135.5,301.5 L135.5,292.5" fill="none" stroke="#e2e2e2" stroke-width="1.8"/>
<rect x="125.0" y="295.5" width="3" height="12" rx="1" fill="#6e6e6e"/>
<rect x="126.0" y="296.5" width="1" height="10" fill="#a8a8a8"/>
<rect x="143.0" y="295.5" width="3" height="12" rx="1" fill="#6e6e6e"/>
<rect x="144.0" y="296.5" width="1" height="10" fill="#a8a8a8"/>
<rect x="129.5" y="291.0" width="12" height="3" rx="1" fill="#6e6e6e"/>
<rect x="130.5" y="292.0" width="10" height="1" fill="#a8a8a8"/>
<g transform="translate(135.5,237.4) scale(-1,1)">
<rect x="-5" y="-10" width="10" height="20" fill="#9a9a9a"/><rect x="-1" y="-10" width="2.5" height="20" fill="#e0e0e0"/>
<rect x="-7" y="-12.5" width="14" height="3.5" rx="1" fill="#707070"/><rect x="-7" y="9" width="14" height="3.5" rx="1" fill="#707070"/>
<rect x="5" y="-4" width="6" height="8" fill="#9a9a9a"/><rect x="5" y="-1" width="6" height="2" fill="#e0e0e0"/>
<rect x="10" y="-7" width="3" height="14" rx="1" fill="#707070"/>
<rect x="13" y="-7" width="11" height="3" fill="#7f9bc4"/><rect x="13" y="4" width="11" height="3" fill="#7f9bc4"/>
<rect x="14" y="-2" width="8" height="4" fill="#b8b8b8"/>
<rect x="23.5" y="-10.5" width="11" height="21" rx="1.5" fill="#24437a"/>
<rect x="23.5" y="-3" width="11" height="6" fill="#5a7fb6"/><rect x="25" y="-1.8" width="3" height="3.6" fill="#c8d6ea"/><rect x="30" y="-1.8" width="3" height="3.6" fill="#c8d6ea"/>
<rect x="28.6" y="-10.5" width="0.9" height="21" fill="#7a96c0"/>
</g>
<rect x="32.5" y="321.5" width="34.599999999999994" height="13.199999999999989" rx="7.099999999999994" fill="#fff" stroke="#9a9a9a" stroke-width="1"/>
<text x="49.8" y="331.74800000000005" font-size="9.6" font-weight="bold" fill="#3a3a3a" text-anchor="middle" textLength="28.479999999999997" lengthAdjust="spacingAndGlyphs">真空泵</text>
<g transform="translate(292.5,361)">
<rect x="-10" y="-5" width="20" height="10" fill="#9a9a9a"/><rect x="-10" y="-1" width="20" height="2.5" fill="#e0e0e0"/>
<rect x="-12.5" y="-7" width="3.5" height="14" rx="1" fill="#707070"/><rect x="9" y="-7" width="3.5" height="14" rx="1" fill="#707070"/>
<rect x="-4" y="-11" width="8" height="6" fill="#9a9a9a"/><rect x="-1" y="-11" width="2" height="6" fill="#e0e0e0"/>
<rect x="-7" y="-13" width="14" height="3" rx="1" fill="#707070"/>
<rect x="-7" y="-24" width="3" height="11" fill="#7f9bc4"/><rect x="4" y="-24" width="3" height="11" fill="#7f9bc4"/>
<rect x="-2" y="-23" width="4" height="9" fill="#b8b8b8"/>
<rect x="-10.5" y="-36" width="21" height="12" rx="1.5" fill="#24437a"/>
<rect x="-3" y="-36" width="6" height="12" fill="#5a7fb6"/><rect x="-1.8" y="-34" width="3.6" height="3" fill="#c8d6ea"/><rect x="-1.8" y="-29" width="3.6" height="3" fill="#c8d6ea"/>
<rect x="-10.5" y="-30.5" width="21" height="0.9" fill="#7a96c0"/>
</g>
<g transform="translate(113,413.5)">
<rect x="-4.5" y="-7" width="9" height="17" rx="4" fill="#2c4a7e"/><rect x="-1.2" y="-6" width="2.4" height="14" fill="#8aa4c8"/>
<rect x="-6.5" y="-10" width="13" height="3.5" rx="1" fill="#2c4a7e"/>
<rect x="-9" y="-22.5" width="18" height="12" rx="2" fill="#3b5c92"/>
<rect x="-6.5" y="-20" width="13" height="7" fill="#1c2c4c"/>
</g>
<g transform="translate(177.4,466.5)">
<rect x="-4.5" y="-7" width="9" height="17" rx="4" fill="#2c4a7e"/><rect x="-1.2" y="-6" width="2.4" height="14" fill="#8aa4c8"/>
<rect x="-6.5" y="-10" width="13" height="3.5" rx="1" fill="#2c4a7e"/>
<rect x="-9" y="-22.5" width="18" height="12" rx="2" fill="#3b5c92"/>
<rect x="-6.5" y="-20" width="13" height="7" fill="#1c2c4c"/>
</g>
<path d="M147,478.5 L147,466.5 L159,466.5" fill="none" stroke="#7a7a7a" stroke-width="9" stroke-linejoin="miter"/>
<path d="M147,478.5 L147,466.5 L159,466.5" fill="none" stroke="#b9b9b9" stroke-width="5" stroke-linejoin="miter"/>
<path d="M147,478.5 L147,466.5 L159,466.5" fill="none" stroke="#e2e2e2" stroke-width="1.8" stroke-linejoin="miter"/>
<rect x="141" y="477.0" width="12" height="3" rx="1" fill="#6e6e6e"/>
<rect x="142" y="478.0" width="10" height="1" fill="#a8a8a8"/>
<rect x="157.5" y="460.5" width="3" height="12" rx="1" fill="#6e6e6e"/>
<rect x="158.5" y="461.5" width="1" height="10" fill="#a8a8a8"/>
<path d="M147,527.5 L147,545.5" fill="none" stroke="#7a7a7a" stroke-width="9"/>
<path d="M147,536.5 L156,536.5" fill="none" stroke="#7a7a7a" stroke-width="9"/>
<path d="M147,527.5 L147,545.5" fill="none" stroke="#b9b9b9" stroke-width="5"/>
<path d="M147,536.5 L156,536.5" fill="none" stroke="#b9b9b9" stroke-width="5"/>
<path d="M147,527.5 L147,545.5" fill="none" stroke="#e2e2e2" stroke-width="1.8"/>
<path d="M147,536.5 L156,536.5" fill="none" stroke="#e2e2e2" stroke-width="1.8"/>
<rect x="141" y="526.0" width="12" height="3" rx="1" fill="#6e6e6e"/>
<rect x="142" y="527.0" width="10" height="1" fill="#a8a8a8"/>
<rect x="141" y="544.0" width="12" height="3" rx="1" fill="#6e6e6e"/>
<rect x="142" y="545.0" width="10" height="1" fill="#a8a8a8"/>
<rect x="154.5" y="530.5" width="3" height="12" rx="1" fill="#6e6e6e"/>
<rect x="155.5" y="531.5" width="1" height="10" fill="#a8a8a8"/>
<path d="M339.6,536.5 L351.6,536.5 L351.6,548.5" fill="none" stroke="#7a7a7a" stroke-width="9" stroke-linejoin="miter"/>
<path d="M339.6,536.5 L351.6,536.5 L351.6,548.5" fill="none" stroke="#b9b9b9" stroke-width="5" stroke-linejoin="miter"/>
<path d="M339.6,536.5 L351.6,536.5 L351.6,548.5" fill="none" stroke="#e2e2e2" stroke-width="1.8" stroke-linejoin="miter"/>
<rect x="338.1" y="530.5" width="3" height="12" rx="1" fill="#6e6e6e"/>
<rect x="339.1" y="531.5" width="1" height="10" fill="#a8a8a8"/>
<rect x="345.6" y="547.0" width="12" height="3" rx="1" fill="#6e6e6e"/>
<rect x="346.6" y="548.0" width="10" height="1" fill="#a8a8a8"/>
<path d="M764.5,361 L776.5,361 L776.5,373" fill="none" stroke="#7a7a7a" stroke-width="9" stroke-linejoin="miter"/>
<path d="M764.5,361 L776.5,361 L776.5,373" fill="none" stroke="#b9b9b9" stroke-width="5" stroke-linejoin="miter"/>
<path d="M764.5,361 L776.5,361 L776.5,373" fill="none" stroke="#e2e2e2" stroke-width="1.8" stroke-linejoin="miter"/>
<rect x="763.0" y="355" width="3" height="12" rx="1" fill="#6e6e6e"/>
<rect x="764.0" y="356" width="1" height="10" fill="#a8a8a8"/>
<rect x="770.5" y="371.5" width="12" height="3" rx="1" fill="#6e6e6e"/>
<rect x="771.5" y="372.5" width="10" height="1" fill="#a8a8a8"/>
<path d="M710,413.5 L722,413.5 L722,425.5" fill="none" stroke="#7a7a7a" stroke-width="9" stroke-linejoin="miter"/>
<path d="M710,413.5 L722,413.5 L722,425.5" fill="none" stroke="#b9b9b9" stroke-width="5" stroke-linejoin="miter"/>
<path d="M710,413.5 L722,413.5 L722,425.5" fill="none" stroke="#e2e2e2" stroke-width="1.8" stroke-linejoin="miter"/>
<rect x="708.5" y="407.5" width="3" height="12" rx="1" fill="#6e6e6e"/>
<rect x="709.5" y="408.5" width="1" height="10" fill="#a8a8a8"/>
<rect x="716" y="424.0" width="12" height="3" rx="1" fill="#6e6e6e"/>
<rect x="717" y="425.0" width="10" height="1" fill="#a8a8a8"/>
<path d="M622.2,466.5 L634.2,466.5 L634.2,478.5" fill="none" stroke="#7a7a7a" stroke-width="9" stroke-linejoin="miter"/>
<path d="M622.2,466.5 L634.2,466.5 L634.2,478.5" fill="none" stroke="#b9b9b9" stroke-width="5" stroke-linejoin="miter"/>
<path d="M622.2,466.5 L634.2,466.5 L634.2,478.5" fill="none" stroke="#e2e2e2" stroke-width="1.8" stroke-linejoin="miter"/>
<rect x="620.7" y="460.5" width="3" height="12" rx="1" fill="#6e6e6e"/>
<rect x="621.7" y="461.5" width="1" height="10" fill="#a8a8a8"/>
<rect x="628.2" y="477.0" width="12" height="3" rx="1" fill="#6e6e6e"/>
<rect x="629.2" y="478.0" width="10" height="1" fill="#a8a8a8"/>
<path d="M776.5,541.7 L776.5,553.7 L788.5,553.7" fill="none" stroke="#7a7a7a" stroke-width="9" stroke-linejoin="miter"/>
<path d="M776.5,541.7 L776.5,553.7 L788.5,553.7" fill="none" stroke="#b9b9b9" stroke-width="5" stroke-linejoin="miter"/>
<path d="M776.5,541.7 L776.5,553.7 L788.5,553.7" fill="none" stroke="#e2e2e2" stroke-width="1.8" stroke-linejoin="miter"/>
<rect x="770.5" y="540.2" width="12" height="3" rx="1" fill="#6e6e6e"/>
<rect x="771.5" y="541.2" width="10" height="1" fill="#a8a8a8"/>
<rect x="787.0" y="547.7" width="3" height="12" rx="1" fill="#6e6e6e"/>
<rect x="788.0" y="548.7" width="1" height="10" fill="#a8a8a8"/>
<path d="M731,491 L731,479 L743,479" fill="none" stroke="#7a7a7a" stroke-width="9" stroke-linejoin="miter"/>
<path d="M731,491 L731,479 L743,479" fill="none" stroke="#b9b9b9" stroke-width="5" stroke-linejoin="miter"/>
<path d="M731,491 L731,479 L743,479" fill="none" stroke="#e2e2e2" stroke-width="1.8" stroke-linejoin="miter"/>
<rect x="725" y="489.5" width="12" height="3" rx="1" fill="#6e6e6e"/>
<rect x="726" y="490.5" width="10" height="1" fill="#a8a8a8"/>
<rect x="741.5" y="473" width="3" height="12" rx="1" fill="#6e6e6e"/>
<rect x="742.5" y="474" width="1" height="10" fill="#a8a8a8"/>
<path d="M741.5,516 L741.5,504 L753.5,504" fill="none" stroke="#7a7a7a" stroke-width="9" stroke-linejoin="miter"/>
<path d="M741.5,516 L741.5,504 L753.5,504" fill="none" stroke="#b9b9b9" stroke-width="5" stroke-linejoin="miter"/>
<path d="M741.5,516 L741.5,504 L753.5,504" fill="none" stroke="#e2e2e2" stroke-width="1.8" stroke-linejoin="miter"/>
<rect x="735.5" y="514.5" width="12" height="3" rx="1" fill="#6e6e6e"/>
<rect x="736.5" y="515.5" width="10" height="1" fill="#a8a8a8"/>
<rect x="752.0" y="498" width="3" height="12" rx="1" fill="#6e6e6e"/>
<rect x="753.0" y="499" width="1" height="10" fill="#a8a8a8"/>
<path d="M33.8,564.5 H60.8 L73,579.5 H20.7 Z" fill="#c8ccd0"/>
<path d="M40,564.5 H54 L58,579.5 H36 Z" fill="#e6e9eb"/>
<rect x="20.70" y="579.5" width="9.02" height="31.899999999999977" fill="#a8acb0"/>
<rect x="29.42" y="579.5" width="9.02" height="31.899999999999977" fill="#c8ccd0"/>
<rect x="38.13" y="579.5" width="9.02" height="31.899999999999977" fill="#dfe2e5"/>
<rect x="46.85" y="579.5" width="9.02" height="31.899999999999977" fill="#dfe2e5"/>
<rect x="55.57" y="579.5" width="9.02" height="31.899999999999977" fill="#c8ccd0"/>
<rect x="64.28" y="579.5" width="9.02" height="31.899999999999977" fill="#b0b4b8"/>
<path d="M20.7,611.4 H73 L52.6,650.6 H42 Z" fill="#b4b8bc"/>
<path d="M38,611.4 H56 L50,650.6 H45 Z" fill="#dadde0"/>
<rect x="42" y="650" width="10.6" height="3.5" fill="#9a9a9a"/>
<path d="M27,614 L66,648 M67,614 L28,648" stroke="#a0a0a0" stroke-width="1.6"/>
<rect x="24" y="607" width="4.5" height="50" fill="#a2a2a2"/><rect x="25.5" y="607" width="1.5" height="50" fill="#dcdcdc"/>
<rect x="65" y="607" width="4.5" height="50" fill="#a2a2a2"/><rect x="66.5" y="607" width="1.5" height="50" fill="#dcdcdc"/>
<rect x="22.5" y="654" width="7.5" height="4" rx="1" fill="#7a7a7a"/><rect x="63.5" y="654" width="7.5" height="4" rx="1" fill="#7a7a7a"/>
<rect x="40.0" y="576.7" width="13.700000000000003" height="56.19999999999993" rx="4.5" fill="#fff" stroke="#9a9a9a" stroke-width="1"/>
<text x="46.85" y="596.3" font-size="10" font-weight="bold" fill="#3a3a3a" text-anchor="middle">原</text>
<text x="46.85" y="608.8" font-size="10" font-weight="bold" fill="#3a3a3a" text-anchor="middle">料</text>
<text x="46.85" y="621.3" font-size="10" font-weight="bold" fill="#3a3a3a" text-anchor="middle">罐</text>
<g transform="translate(136.8,612.3)">
<path d="M-3.5,14 L3.5,14 L8.5,22.5 L-8.5,22.5 Z" fill="#8a8a8a"/><path d="M-1,14 L1.5,14 L2.5,22.5 L-1.5,22.5 Z" fill="#c8c8c8"/>
<rect x="-10" y="22" width="20" height="4" rx="1" fill="#6f6f6f"/><rect x="-9" y="23.3" width="18" height="1.2" fill="#a0a0a0"/>
<rect x="7.5" y="-17" width="5.5" height="17" fill="#8a8a8a"/><rect x="9.5" y="-17" width="1.8" height="17" fill="#dadada"/>
<rect x="4" y="-18.8" width="12.5" height="3.2" rx="1" fill="#6e6e6e"/>
<circle cx="0" cy="0" r="14.3" fill="#777"/>
<circle cx="0" cy="0" r="12.6" fill="#c9c9c9"/>
<circle cx="0" cy="0" r="10.8" fill="#8f8f8f"/>
<circle cx="0" cy="0" r="9" fill="#b9b9b9"/>
<path d="M-16,12.5 H6 Q12.6,12.5 12.6,5 V-2" fill="none" stroke="#7a7a7a" stroke-width="6.5"/>
<path d="M-16,12.5 H6 Q12.6,12.5 12.6,5 V-2" fill="none" stroke="#d6d6d6" stroke-width="2"/>
<rect x="-18.5" y="6" width="3.2" height="13" rx="1" fill="#6e6e6e"/>
<circle cx="0" cy="0" r="7" fill="#16161c"/>
<circle cx="0" cy="0" r="5.4" fill="#e2405e"/>
<circle cx="-1" cy="-1.6" r="2.1" fill="#f27a92"/>
</g>
<rect x="101.5" y="646.0" width="65" height="14.0" rx="7.5" fill="#fff" stroke="#9a9a9a" stroke-width="1"/>
<text x="134.0" y="656.648" font-size="9.6" font-weight="bold" fill="#3a3a3a" text-anchor="middle" textLength="52.800000000000004" lengthAdjust="spacingAndGlyphs">进料泵 变频</text>
<g transform="translate(362.3,612.4) scale(-1,1)">
<path d="M-3.5,14 L3.5,14 L8.5,22.5 L-8.5,22.5 Z" fill="#8a8a8a"/><path d="M-1,14 L1.5,14 L2.5,22.5 L-1.5,22.5 Z" fill="#c8c8c8"/>
<rect x="-10" y="22" width="20" height="4" rx="1" fill="#6f6f6f"/><rect x="-9" y="23.3" width="18" height="1.2" fill="#a0a0a0"/>
<rect x="7.5" y="-17" width="5.5" height="17" fill="#8a8a8a"/><rect x="9.5" y="-17" width="1.8" height="17" fill="#dadada"/>
<rect x="4" y="-18.8" width="12.5" height="3.2" rx="1" fill="#6e6e6e"/>
<circle cx="0" cy="0" r="14.3" fill="#777"/>
<circle cx="0" cy="0" r="12.6" fill="#c9c9c9"/>
<circle cx="0" cy="0" r="10.8" fill="#8f8f8f"/>
<circle cx="0" cy="0" r="9" fill="#b9b9b9"/>
<path d="M-16,12.5 H6 Q12.6,12.5 12.6,5 V-2" fill="none" stroke="#7a7a7a" stroke-width="6.5"/>
<path d="M-16,12.5 H6 Q12.6,12.5 12.6,5 V-2" fill="none" stroke="#d6d6d6" stroke-width="2"/>
<rect x="-18.5" y="6" width="3.2" height="13" rx="1" fill="#6e6e6e"/>
<circle cx="0" cy="0" r="7" fill="#16161c"/>
<circle cx="0" cy="0" r="5.4" fill="#e2405e"/>
<circle cx="-1" cy="-1.6" r="2.1" fill="#f27a92"/>
</g>
<rect x="345.0" y="647.5" width="32.39999999999998" height="13.399999999999977" rx="7.199999999999989" fill="#fff" stroke="#9a9a9a" stroke-width="1"/>
<text x="361.2" y="657.8480000000001" font-size="9.6" font-weight="bold" fill="#3a3a3a" text-anchor="middle" textLength="26.719999999999985" lengthAdjust="spacingAndGlyphs">积液泵</text>
<rect x="407" y="561.7" width="33.6" height="2" fill="#b4b8bc"/>
<path d="M407,563.3 H440.6 L450.9,570.2 H396.9 Z" fill="#c8ccd0"/>
<rect x="399.5" y="618" width="4" height="37" fill="#a2a2a2"/><rect x="398.3" y="652" width="6.4" height="5" rx="1" fill="#7a7a7a"/>
<rect x="408.7" y="618" width="4" height="37" fill="#a2a2a2"/><rect x="407.5" y="652" width="6.4" height="5" rx="1" fill="#7a7a7a"/>
<rect x="435" y="618" width="4" height="37" fill="#a2a2a2"/><rect x="433.8" y="652" width="6.4" height="5" rx="1" fill="#7a7a7a"/>
<rect x="443.6" y="618" width="4" height="37" fill="#a2a2a2"/><rect x="442.40000000000003" y="652" width="6.4" height="5" rx="1" fill="#7a7a7a"/>
<rect x="396.90" y="570.2" width="8.01" height="50.09999999999991" fill="#9a9a9a"/>
<rect x="404.61" y="570.2" width="8.01" height="50.09999999999991" fill="#b8bcc0"/>
<rect x="412.33" y="570.2" width="8.01" height="50.09999999999991" fill="#d0d4d8"/>
<rect x="420.04" y="570.2" width="8.01" height="50.09999999999991" fill="#e8eaec"/>
<rect x="427.76" y="570.2" width="8.01" height="50.09999999999991" fill="#d0d4d8"/>
<rect x="435.47" y="570.2" width="8.01" height="50.09999999999991" fill="#b8bcc0"/>
<rect x="443.19" y="570.2" width="8.01" height="50.09999999999991" fill="#a0a0a0"/>
<path d="M396.9,620.3 H450.9 L429,649 H418.7 Z" fill="#a8acb0"/>
<path d="M412,620.3 H436 L427,649 H421 Z" fill="#d0d4d8"/>
<rect x="417.1" y="570.9" width="12.4" height="50.1" fill="#e6e6e6" stroke="#7aa0e8" stroke-width="1.6"/>
<rect x="417.6" y="604.7" width="11.4" height="15.8" fill="#5ad43a"/>
<rect x="454.4" y="576.0" width="13.300000000000011" height="56.5" rx="4.5" fill="#fff" stroke="#9a9a9a" stroke-width="1"/>
<text x="461.04999999999995" y="595.75" font-size="10" font-weight="bold" fill="#3a3a3a" text-anchor="middle">积</text>
<text x="461.04999999999995" y="608.25" font-size="10" font-weight="bold" fill="#3a3a3a" text-anchor="middle">液</text>
<text x="461.04999999999995" y="620.75" font-size="10" font-weight="bold" fill="#3a3a3a" text-anchor="middle">罐</text>
<g transform="translate(644.4,621.8) scale(-1,1)">
<path d="M-3.5,14 L3.5,14 L8.5,22.5 L-8.5,22.5 Z" fill="#8a8a8a"/><path d="M-1,14 L1.5,14 L2.5,22.5 L-1.5,22.5 Z" fill="#c8c8c8"/>
<rect x="-10" y="22" width="20" height="4" rx="1" fill="#6f6f6f"/><rect x="-9" y="23.3" width="18" height="1.2" fill="#a0a0a0"/>
<rect x="7.5" y="-17" width="5.5" height="17" fill="#8a8a8a"/><rect x="9.5" y="-17" width="1.8" height="17" fill="#dadada"/>
<rect x="4" y="-18.8" width="12.5" height="3.2" rx="1" fill="#6e6e6e"/>
<circle cx="0" cy="0" r="14.3" fill="#777"/>
<circle cx="0" cy="0" r="12.6" fill="#c9c9c9"/>
<circle cx="0" cy="0" r="10.8" fill="#8f8f8f"/>
<circle cx="0" cy="0" r="9" fill="#b9b9b9"/>
<path d="M-16,12.5 H6 Q12.6,12.5 12.6,5 V-2" fill="none" stroke="#7a7a7a" stroke-width="6.5"/>
<path d="M-16,12.5 H6 Q12.6,12.5 12.6,5 V-2" fill="none" stroke="#d6d6d6" stroke-width="2"/>
<rect x="-18.5" y="6" width="3.2" height="13" rx="1" fill="#6e6e6e"/>
<circle cx="0" cy="0" r="7" fill="#16161c"/>
<circle cx="0" cy="0" r="5.4" fill="#e2405e"/>
<circle cx="-1" cy="-1.6" r="2.1" fill="#f27a92"/>
</g>
<rect x="608.2" y="654.4" width="75.0" height="13.700000000000045" rx="7.350000000000023" fill="#fff" stroke="#9a9a9a" stroke-width="1"/>
<text x="645.7" y="664.898" font-size="9.6" font-weight="bold" fill="#3a3a3a" text-anchor="middle" textLength="60.800000000000004" lengthAdjust="spacingAndGlyphs">蒸馏水泵 变频</text>
<rect x="714.20" y="574.5" width="6.98" height="5.5" fill="#c8ccd0"/>
<rect x="720.88" y="574.5" width="6.98" height="5.5" fill="#e8ebee"/>
<rect x="727.56" y="574.5" width="6.98" height="5.5" fill="#f2f4f6"/>
<rect x="734.24" y="574.5" width="6.98" height="5.5" fill="#e8ebee"/>
<rect x="740.92" y="574.5" width="6.98" height="5.5" fill="#c8ccd0"/>
<path d="M714.2,579.7 H747.6 L757.3,585 H705.2 Z" fill="#c8ccd0"/>
<rect x="705.20" y="585" width="7.74" height="77.39999999999998" fill="#8f8f8f"/>
<rect x="712.64" y="585" width="7.74" height="77.39999999999998" fill="#b8bcc0"/>
<rect x="720.09" y="585" width="7.74" height="77.39999999999998" fill="#cfd3d6"/>
<rect x="727.53" y="585" width="7.74" height="77.39999999999998" fill="#e4e6e8"/>
<rect x="734.97" y="585" width="7.74" height="77.39999999999998" fill="#cfd3d6"/>
<rect x="742.41" y="585" width="7.74" height="77.39999999999998" fill="#b8bcc0"/>
<rect x="749.86" y="585" width="7.74" height="77.39999999999998" fill="#949494"/>
<rect x="703.6" y="660" width="55.4" height="10" fill="#7e7e7e"/><rect x="708" y="660" width="46" height="6" fill="#9a9a9a"/>
<rect x="724.8" y="586.7" width="13.1" height="79.7" fill="#e6e6e6" stroke="#7aa0e8" stroke-width="1.6"/>
<rect x="725.3" y="629" width="12.1" height="37" fill="#5ad43a"/>
<rect x="763.2" y="585.0" width="14.199999999999932" height="72.39999999999998" rx="4.5" fill="#fff" stroke="#9a9a9a" stroke-width="1"/>
<text x="770.3" y="606.45" font-size="10" font-weight="bold" fill="#3a3a3a" text-anchor="middle">蒸</text>
<text x="770.3" y="618.95" font-size="10" font-weight="bold" fill="#3a3a3a" text-anchor="middle">馏</text>
<text x="770.3" y="631.45" font-size="10" font-weight="bold" fill="#3a3a3a" text-anchor="middle">水</text>
<text x="770.3" y="643.95" font-size="10" font-weight="bold" fill="#3a3a3a" text-anchor="middle">罐</text>
<rect x="38.0" y="23.2" width="67.5" height="39.3" rx="2.5" fill="#fff" stroke="#6a9bd2" stroke-width="1"/>
<path d="M38.0,42.849999999999994 V25.7 Q38.0,23.2 40.5,23.2 H103 Q105.5,23.2 105.5,25.7 V42.849999999999994 Z" fill="#2270b6"/>
<text x="71.75" y="37.55" font-size="12" fill="#fff" text-anchor="middle" textLength="59.92875" lengthAdjust="spacingAndGlyphs">压缩机电流/A</text>
<text x="71.75" y="56.0" font-size="10.5" fill="#5a8fca" text-anchor="middle">0.12</text>
<rect x="38.0" y="72.5" width="67.5" height="39.3" rx="2.5" fill="#fff" stroke="#6a9bd2" stroke-width="1"/>
<path d="M38.0,92.15 V75 Q38.0,72.5 40.5,72.5 H103 Q105.5,72.5 105.5,75 V92.15 Z" fill="#2270b6"/>
<text x="71.75" y="86.85000000000001" font-size="12" fill="#fff" text-anchor="middle" textLength="65.5" lengthAdjust="spacingAndGlyphs">压缩机频率/Hz</text>
<text x="71.75" y="105.3" font-size="10.5" fill="#5a8fca" text-anchor="middle">0</text>
<rect x="162.5" y="23.2" width="87.5" height="39.3" rx="2.5" fill="#fff" stroke="#6a9bd2" stroke-width="1"/>
<path d="M162.5,42.849999999999994 V25.7 Q162.5,23.2 165,23.2 H247.5 Q250.0,23.2 250.0,25.7 V42.849999999999994 Z" fill="#2270b6"/>
<text x="206.25" y="37.55" font-size="12" fill="#fff" text-anchor="middle" textLength="40.32" lengthAdjust="spacingAndGlyphs">轴承振动</text>
<text x="206.25" y="56.0" font-size="10.5" fill="#5a8fca" text-anchor="middle">0</text>
<rect x="162.5" y="72.5" width="87.5" height="39.3" rx="2.5" fill="#fff" stroke="#6a9bd2" stroke-width="1"/>
<path d="M162.5,92.15 V75 Q162.5,72.5 165,72.5 H247.5 Q250.0,72.5 250.0,75 V92.15 Z" fill="#2270b6"/>
<text x="206.25" y="86.85000000000001" font-size="12" fill="#fff" text-anchor="middle" textLength="82.60875" lengthAdjust="spacingAndGlyphs">压缩机出口温度/℃</text>
<text x="206.25" y="105.3" font-size="10.5" fill="#5a8fca" text-anchor="middle">32.19</text>
<rect x="400.5" y="79.5" width="46.5" height="39.2" rx="2.5" fill="#fff" stroke="#6a9bd2" stroke-width="1"/>
<path d="M400.5,99.1 V82 Q400.5,79.5 403,79.5 H444.5 Q447.0,79.5 447.0,82 V99.1 Z" fill="#2270b6"/>
<text x="423.75" y="93.8" font-size="12" fill="#fff" text-anchor="middle" textLength="42.013124999999995" lengthAdjust="spacingAndGlyphs">平衡阀/%</text>
<text x="423.75" y="112.2" font-size="10.5" fill="#5a8fca" text-anchor="middle">99.28</text>
<rect x="411.7" y="150.0" width="86.5" height="38.80000000000001" rx="2.5" fill="#fff" stroke="#6a9bd2" stroke-width="1"/>
<path d="M411.7,169.4 V152.5 Q411.7,150.0 414.2,150.0 H495.7 Q498.2,150.0 498.2,152.5 V169.4 Z" fill="#2270b6"/>
<text x="454.95" y="164.1" font-size="12" fill="#fff" text-anchor="middle" textLength="82.60875" lengthAdjust="spacingAndGlyphs">洗气塔液相温度/℃</text>
<text x="454.95" y="182.3" font-size="10.5" fill="#5a8fca" text-anchor="middle">23.7</text>
<rect x="954.9" y="58.5" width="85.30000000000007" height="39.8" rx="2.5" fill="#fff" stroke="#6a9bd2" stroke-width="1"/>
<path d="M954.9,78.4 V61 Q954.9,58.5 957.4,58.5 H1037.7 Q1040.2,58.5 1040.2,61 V78.4 Z" fill="#2270b6"/>
<text x="997.55" y="73.10000000000001" font-size="12" fill="#fff" text-anchor="middle" textLength="82.333125" lengthAdjust="spacingAndGlyphs">预热蒸汽调节阀/%</text>
<text x="997.55" y="91.8" font-size="10.5" fill="#5a8fca" text-anchor="middle">0</text>
<rect x="1068.2" y="149.8" width="95.29999999999995" height="39.0" rx="2.5" fill="#fff" stroke="#6a9bd2" stroke-width="1"/>
<path d="M1068.2,169.3 V152.3 Q1068.2,149.8 1070.7,149.8 H1161 Q1163.5,149.8 1163.5,152.3 V169.3 Z" fill="#2270b6"/>
<text x="1115.85" y="164.0" font-size="12" fill="#fff" text-anchor="middle" textLength="90.155625" lengthAdjust="spacingAndGlyphs">结晶分离器液位/mm</text>
<text x="1115.85" y="182.3" font-size="10.5" fill="#5a8fca" text-anchor="middle">174.43</text>
<rect x="162.5" y="198.2" width="95.39999999999998" height="38.900000000000006" rx="2.5" fill="#fff" stroke="#6a9bd2" stroke-width="1"/>
<path d="M162.5,217.64999999999998 V200.7 Q162.5,198.2 165,198.2 H255.39999999999998 Q257.9,198.2 257.9,200.7 V217.64999999999998 Z" fill="#2270b6"/>
<text x="210.2" y="212.34999999999997" font-size="12" fill="#fff" text-anchor="middle" textLength="92.413125" lengthAdjust="spacingAndGlyphs">不凝气比例调节阀/%</text>
<text x="210.2" y="230.6" font-size="10.5" fill="#5a8fca" text-anchor="middle">0</text>
<rect x="275.8" y="268.6" width="85.80000000000001" height="38.89999999999998" rx="2.5" fill="#fff" stroke="#6a9bd2" stroke-width="1"/>
<path d="M275.8,288.05 V271.1 Q275.8,268.6 278.3,268.6 H359.1 Q361.6,268.6 361.6,271.1 V288.05 Z" fill="#2270b6"/>
<text x="318.70000000000005" y="282.75" font-size="12" fill="#fff" text-anchor="middle" textLength="82.333125" lengthAdjust="spacingAndGlyphs">蒸汽比例调节阀/%</text>
<text x="318.70000000000005" y="301.0" font-size="10.5" fill="#5a8fca" text-anchor="middle">1</text>
<rect x="705.7" y="184.0" width="76.29999999999995" height="39.099999999999994" rx="2.5" fill="#fff" stroke="#6a9bd2" stroke-width="1"/>
<path d="M705.7,203.55 V186.5 Q705.7,184.0 708.2,184.0 H779.5 Q782.0,184.0 782.0,186.5 V203.55 Z" fill="#2270b6"/>
<text x="743.85" y="198.25" font-size="12" fill="#fff" text-anchor="middle" textLength="69.995625" lengthAdjust="spacingAndGlyphs">洗气塔液位/mm</text>
<text x="743.85" y="216.6" font-size="10.5" fill="#5a8fca" text-anchor="middle">4.32</text>
<rect x="626.7" y="310.7" width="111.0" height="38.80000000000001" rx="2.5" fill="#fff" stroke="#6a9bd2" stroke-width="1"/>
<path d="M626.7,330.1 V313.2 Q626.7,310.7 629.2,310.7 H735.2 Q737.7,310.7 737.7,313.2 V330.1 Z" fill="#2270b6"/>
<text x="682.2" y="324.8" font-size="12" fill="#fff" text-anchor="middle" textLength="106.41749999999999" lengthAdjust="spacingAndGlyphs">强循壳程压力变送/mbar</text>
<text x="682.2" y="343.0" font-size="10.5" fill="#5a8fca" text-anchor="middle">1002.31</text>
<rect x="3.8" y="364.5" width="67.3" height="39.5" rx="2.5" fill="#fff" stroke="#6a9bd2" stroke-width="1"/>
<path d="M3.8,384.25 V367 Q3.8,364.5 6.3,364.5 H68.6 Q71.1,364.5 71.1,367 V384.25 Z" fill="#2270b6"/>
<text x="37.449999999999996" y="378.95" font-size="12" fill="#fff" text-anchor="middle" textLength="62.44875" lengthAdjust="spacingAndGlyphs">蒸馏水温度/℃</text>
<text x="37.449999999999996" y="397.5" font-size="10.5" fill="#5a8fca" text-anchor="middle">21.68</text>
<rect x="388.9" y="364.6" width="86.90000000000003" height="39.39999999999998" rx="2.5" fill="#fff" stroke="#6a9bd2" stroke-width="1"/>
<path d="M388.9,384.3 V367.1 Q388.9,364.6 391.4,364.6 H473.3 Q475.8,364.6 475.8,367.1 V384.3 Z" fill="#2270b6"/>
<text x="432.35" y="379.0" font-size="12" fill="#fff" text-anchor="middle" textLength="82.60875" lengthAdjust="spacingAndGlyphs">进料预热后温度/℃</text>
<text x="432.35" y="397.5" font-size="10.5" fill="#5a8fca" text-anchor="middle">25.28</text>
<rect x="1011.7" y="408.5" width="120.79999999999995" height="39" rx="2.5" fill="#fff" stroke="#6a9bd2" stroke-width="1"/>
<path d="M1011.7,428.0 V411 Q1011.7,408.5 1014.2,408.5 H1130 Q1132.5,408.5 1132.5,411 V428.0 Z" fill="#2270b6"/>
<text x="1072.1" y="422.7" font-size="12" fill="#fff" text-anchor="middle" textLength="116.4975" lengthAdjust="spacingAndGlyphs">结晶分离器气相压力/mbar</text>
<text x="1072.1" y="441" font-size="10.5" fill="#5a8fca" text-anchor="middle">1014.41</text>
<rect x="1011.7" y="457.8" width="120.79999999999995" height="39.099999999999966" rx="2.5" fill="#fff" stroke="#6a9bd2" stroke-width="1"/>
<path d="M1011.7,477.35 V460.3 Q1011.7,457.8 1014.2,457.8 H1130 Q1132.5,457.8 1132.5,460.3 V477.35 Z" fill="#2270b6"/>
<text x="1072.1" y="472.05" font-size="12" fill="#fff" text-anchor="middle" textLength="102.76875" lengthAdjust="spacingAndGlyphs">结晶分离器液相温度/℃</text>
<text x="1072.1" y="490.4" font-size="10.5" fill="#5a8fca" text-anchor="middle">26.59</text>
<rect x="26.4" y="464.5" width="68.30000000000001" height="39.5" rx="2.5" fill="#fff" stroke="#6a9bd2" stroke-width="1"/>
<path d="M26.4,484.25 V467 Q26.4,464.5 28.9,464.5 H92.2 Q94.7,464.5 94.7,467 V484.25 Z" fill="#2270b6"/>
<text x="60.55" y="478.95" font-size="12" fill="#fff" text-anchor="middle" textLength="65.52" lengthAdjust="spacingAndGlyphs">原料泵频率/Hz</text>
<text x="60.55" y="497.5" font-size="10.5" fill="#5a8fca" text-anchor="middle">0</text>
<rect x="26.4" y="513.9" width="68.30000000000001" height="39.0" rx="2.5" fill="#fff" stroke="#6a9bd2" stroke-width="1"/>
<path d="M26.4,533.4 V516.4 Q26.4,513.9 28.9,513.9 H92.2 Q94.7,513.9 94.7,516.4 V533.4 Z" fill="#2270b6"/>
<text x="60.55" y="528.1" font-size="12" fill="#fff" text-anchor="middle" textLength="59.92875" lengthAdjust="spacingAndGlyphs">原料泵电流/A</text>
<text x="60.55" y="546.4" font-size="10.5" fill="#5a8fca" text-anchor="middle">0</text>
<rect x="174.1" y="583.2" width="76.4" height="38.799999999999955" rx="2.5" fill="#fff" stroke="#6a9bd2" stroke-width="1"/>
<path d="M174.1,602.6 V585.7 Q174.1,583.2 176.6,583.2 H248 Q250.5,583.2 250.5,585.7 V602.6 Z" fill="#2270b6"/>
<text x="212.3" y="597.3000000000001" font-size="12" fill="#fff" text-anchor="middle" textLength="54.875625" lengthAdjust="spacingAndGlyphs">进料累计/m³</text>
<text x="212.3" y="615.5" font-size="10.5" fill="#5a8fca" text-anchor="middle">0.2</text>
<rect x="174.1" y="632.5" width="76.4" height="39.299999999999955" rx="2.5" fill="#fff" stroke="#6a9bd2" stroke-width="1"/>
<path d="M174.1,652.15 V635 Q174.1,632.5 176.6,632.5 H248 Q250.5,632.5 250.5,635 V652.15 Z" fill="#2270b6"/>
<text x="212.3" y="646.85" font-size="12" fill="#fff" text-anchor="middle" textLength="69.995625" lengthAdjust="spacingAndGlyphs">进料流量/(m³/h)</text>
<text x="212.3" y="665.3" font-size="10.5" fill="#5a8fca" text-anchor="middle">0</text>
<rect x="514.5" y="555.2" width="79.10000000000002" height="38.799999999999955" rx="2.5" fill="#fff" stroke="#6a9bd2" stroke-width="1"/>
<path d="M514.5,574.6 V557.7 Q514.5,555.2 517,555.2 H591.1 Q593.6,555.2 593.6,557.7 V574.6 Z" fill="#2270b6"/>
<text x="554.05" y="569.3000000000001" font-size="12" fill="#fff" text-anchor="middle" textLength="75.6" lengthAdjust="spacingAndGlyphs">蒸馏水泵频率/Hz</text>
<text x="554.05" y="587.5" font-size="10.5" fill="#5a8fca" text-anchor="middle">0</text>
<rect x="514.5" y="604.4" width="79.10000000000002" height="39.0" rx="2.5" fill="#fff" stroke="#6a9bd2" stroke-width="1"/>
<path d="M514.5,623.9 V606.9 Q514.5,604.4 517,604.4 H591.1 Q593.6,604.4 593.6,606.9 V623.9 Z" fill="#2270b6"/>
<text x="554.05" y="618.6" font-size="12" fill="#fff" text-anchor="middle" textLength="70.00874999999999" lengthAdjust="spacingAndGlyphs">蒸馏水泵电流/A</text>
<text x="554.05" y="636.9" font-size="10.5" fill="#5a8fca" text-anchor="middle">0</text>
<rect x="1068.0" y="548.0" width="88.79999999999995" height="40.0" rx="2.5" fill="#fff" stroke="#6a9bd2" stroke-width="1"/>
<path d="M1068.0,568.0 V550.5 Q1068.0,548.0 1070.5,548.0 H1154.3 Q1156.8,548.0 1156.8,550.5 V568.0 Z" fill="#2270b6"/>
<text x="1112.4" y="562.7" font-size="12" fill="#fff" text-anchor="middle" textLength="80.08874999999999" lengthAdjust="spacingAndGlyphs">强制循环泵电流/A</text>
<text x="1112.4" y="581.5" font-size="10.5" fill="#5a8fca" text-anchor="middle">0</text>
<rect x="1068.0" y="604.5" width="88.79999999999995" height="39" rx="2.5" fill="#fff" stroke="#6a9bd2" stroke-width="1"/>
<path d="M1068.0,624.0 V607 Q1068.0,604.5 1070.5,604.5 H1154.3 Q1156.8,604.5 1156.8,607 V624.0 Z" fill="#2270b6"/>
<text x="1112.4" y="618.7" font-size="12" fill="#fff" text-anchor="middle" textLength="85.67999999999999" lengthAdjust="spacingAndGlyphs">强制循环泵频率/Hz</text>
<text x="1112.4" y="637" font-size="10.5" fill="#5a8fca" text-anchor="middle">0</text>
<rect x="942.1999999999999" y="4.6" width="104.90000000000005" height="102.5" rx="12" fill="none" stroke="#1fae3f" stroke-width="3.8"/>
<rect x="576.6" y="155.0" width="84.99999999999996" height="109.3" rx="12" fill="none" stroke="#1fae3f" stroke-width="3.8"/>
<rect x="1052.3999999999999" y="320.3" width="78.8000000000001" height="94.00000000000003" rx="12" fill="none" stroke="#1fae3f" stroke-width="3.6"/>
<rect x="10.4" y="249.9" width="71.3" height="97.09999999999998" rx="12" fill="none" stroke="#1fae3f" stroke-width="3.8"/>
</svg></body></html>
